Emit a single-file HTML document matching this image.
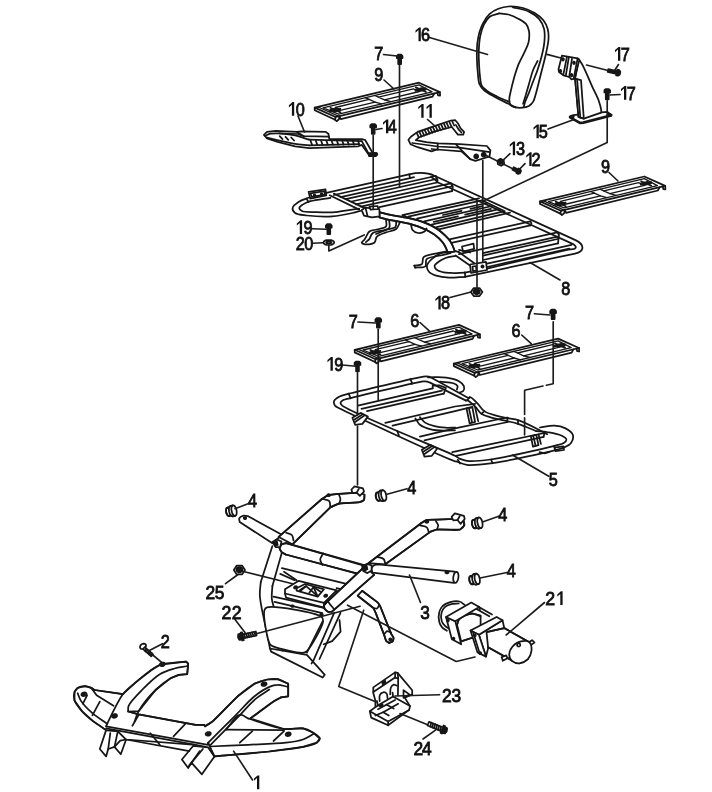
<!DOCTYPE html>
<html><head><meta charset="utf-8"><title>Parts diagram</title>
<style>
html,body{margin:0;padding:0;background:#fff;}
body{width:712px;height:792px;overflow:hidden;}
svg{display:block;}
path{fill:none;stroke:#161616;stroke-width:1.75;stroke-linejoin:round;stroke-linecap:round;}
path.ld{stroke-width:1.65;stroke:#1c1c1c;}
path.k{fill:#161616;}
path.w{fill:#fff;}
path.t{stroke-width:1.3;}
text{font-family:"Liberation Sans",sans-serif;font-size:18.7px;fill:#111;stroke:#111;stroke-width:0.85px;}
path.g1{fill:#111;stroke:none;}
</style></head>
<body>
<svg width="712" height="792" viewBox="0 0 712 792">
<rect x="0" y="0" width="712" height="792" fill="#fff"/>
<!-- plates -->
<path d="M314.7 107.6 L419 82.7 L439.9 92.1 L339.3 116.1 L335.6 117Z" stroke-width="1.8" class="w"/>
<path d="M314.7 107.6 L314.7 110.2 L335.1 119.8 L335.6 117" stroke-width="1.5"/>
<path d="M318.2 107 L338.3 116.1" class="t"/>
<path d="M335.1 119.8 L336.6 121.2 L339 119.3 L339.3 116.1" stroke-width="1.5"/>
<path d="M339.3 116.1 L340.8 119.1 L432.6 96.7 L434.2 93.5" stroke-width="1.7"/>
<path d="M439.9 92.1 L440.1 95.6 L438 95.3 L437.6 92.9" stroke-width="1.7"/>
<path d="M323 107.8 L419 84.9 L432.1 91.8 L338.7 114.1Z" class="t"/>
<path d="M335.2 107.5 L369.1 99.4 L375.1 102.1 L341.2 110.2Z" class="t"/>
<path d="M378.4 97.1 L413.4 88.8 L419.4 91.5 L384.5 99.9Z" class="t"/>
<path d="M365.3 97.7 L369.1 99.4" class="t"/>
<path d="M374.7 95.4 L378.4 97.1" class="t"/>
<path d="M375.1 102.1 L381.5 103.9" class="t"/>
<path d="M384.5 99.9 L390.9 101.6" class="t"/>
<path d="M330.3 109.9 L336.5 108.4 L340.3 110.1 L334 111.6Z" stroke-width="1" class="k"/>
<path d="M330.3 107.8 L340.5 112.4" stroke-width="1.9"/>
<path d="M329.8 111.2 L340.3 108.7" stroke-width="1.7"/>
<path d="M415.8 89.5 L422 88 L425.8 89.7 L419.5 91.2Z" stroke-width="1" class="k"/>
<path d="M415.8 87.4 L426 92" stroke-width="1.9"/>
<path d="M415.4 90.8 L425.8 88.3" stroke-width="1.7"/>
<path d="M540 201.4 L644.3 176.5 L665.2 185.9 L564.6 209.9 L560.9 210.8Z" stroke-width="1.8" class="w"/>
<path d="M540 201.4 L540 204 L560.4 213.6 L560.9 210.8" stroke-width="1.5"/>
<path d="M543.5 200.8 L563.6 209.9" class="t"/>
<path d="M560.4 213.6 L561.9 215 L564.3 213.1 L564.6 209.9" stroke-width="1.5"/>
<path d="M564.6 209.9 L566.1 212.9 L657.9 190.5 L659.5 187.3" stroke-width="1.7"/>
<path d="M665.2 185.9 L665.4 189.4 L663.3 189.1 L662.9 186.7" stroke-width="1.7"/>
<path d="M548.4 201.6 L644.3 178.7 L657.4 185.6 L564 207.9Z" class="t"/>
<path d="M560.5 201.3 L594.4 193.2 L600.4 195.9 L566.5 204Z" class="t"/>
<path d="M603.7 190.9 L638.7 182.6 L644.7 185.3 L609.8 193.7Z" class="t"/>
<path d="M590.6 191.5 L594.4 193.2" class="t"/>
<path d="M600 189.2 L603.7 190.9" class="t"/>
<path d="M600.4 195.9 L606.8 197.7" class="t"/>
<path d="M609.8 193.7 L616.2 195.4" class="t"/>
<path d="M555.6 203.7 L561.8 202.2 L565.6 203.9 L559.3 205.4Z" stroke-width="1" class="k"/>
<path d="M555.6 201.6 L565.8 206.2" stroke-width="1.9"/>
<path d="M555.1 205 L565.6 202.5" stroke-width="1.7"/>
<path d="M641.1 183.3 L647.3 181.8 L651.1 183.5 L644.8 185Z" stroke-width="1" class="k"/>
<path d="M641.1 181.2 L651.3 185.8" stroke-width="1.9"/>
<path d="M640.7 184.6 L651.1 182.1" stroke-width="1.7"/>
<path d="M354.7 349.8 L459 324.9 L479.9 334.3 L379.3 358.3 L375.6 359.2Z" stroke-width="1.8" class="w"/>
<path d="M354.7 349.8 L354.7 352.4 L375.1 362 L375.6 359.2" stroke-width="1.5"/>
<path d="M358.2 349.2 L378.3 358.3" class="t"/>
<path d="M375.1 362 L376.6 363.4 L379 361.5 L379.3 358.3" stroke-width="1.5"/>
<path d="M379.3 358.3 L380.8 361.3 L472.6 338.9 L474.2 335.7" stroke-width="1.7"/>
<path d="M479.9 334.3 L480.1 337.8 L478 337.5 L477.6 335.1" stroke-width="1.7"/>
<path d="M363 350 L459 327.1 L472.1 334 L378.7 356.3Z" class="t"/>
<path d="M375.2 349.7 L409.1 341.6 L415.1 344.3 L381.2 352.4Z" class="t"/>
<path d="M418.4 339.3 L453.4 331 L459.4 333.7 L424.5 342.1Z" class="t"/>
<path d="M405.3 339.9 L409.1 341.6" class="t"/>
<path d="M414.7 337.6 L418.4 339.3" class="t"/>
<path d="M415.1 344.3 L421.5 346.1" class="t"/>
<path d="M424.5 342.1 L430.9 343.8" class="t"/>
<path d="M370.3 352.1 L376.5 350.6 L380.3 352.3 L374 353.8Z" stroke-width="1" class="k"/>
<path d="M370.3 350 L380.5 354.6" stroke-width="1.9"/>
<path d="M369.8 353.4 L380.3 350.9" stroke-width="1.7"/>
<path d="M455.8 331.7 L462 330.2 L465.8 331.9 L459.5 333.4Z" stroke-width="1" class="k"/>
<path d="M455.8 329.6 L466 334.2" stroke-width="1.9"/>
<path d="M455.4 333 L465.8 330.5" stroke-width="1.7"/>
<path d="M453.8 363.5 L558.1 338.6 L579 348 L478.4 372 L474.7 372.9Z" stroke-width="1.8" class="w"/>
<path d="M453.8 363.5 L453.8 366.1 L474.2 375.7 L474.7 372.9" stroke-width="1.5"/>
<path d="M457.3 362.9 L477.4 372" class="t"/>
<path d="M474.2 375.7 L475.7 377.1 L478.1 375.2 L478.4 372" stroke-width="1.5"/>
<path d="M478.4 372 L479.9 375 L571.7 352.6 L573.3 349.4" stroke-width="1.7"/>
<path d="M579 348 L579.2 351.5 L577.1 351.2 L576.7 348.8" stroke-width="1.7"/>
<path d="M462.1 363.7 L558.1 340.8 L571.2 347.7 L477.8 370Z" class="t"/>
<path d="M474.3 363.4 L508.2 355.3 L514.2 358 L480.3 366.1Z" class="t"/>
<path d="M517.5 353 L552.5 344.7 L558.5 347.4 L523.6 355.8Z" class="t"/>
<path d="M504.4 353.6 L508.2 355.3" class="t"/>
<path d="M513.8 351.3 L517.5 353" class="t"/>
<path d="M514.2 358 L520.6 359.8" class="t"/>
<path d="M523.6 355.8 L530 357.5" class="t"/>
<path d="M469.4 365.8 L475.6 364.3 L479.4 366 L473.1 367.5Z" stroke-width="1" class="k"/>
<path d="M469.4 363.7 L479.6 368.3" stroke-width="1.9"/>
<path d="M468.9 367.1 L479.4 364.6" stroke-width="1.7"/>
<path d="M554.9 345.4 L561.1 343.9 L564.9 345.6 L558.6 347.1Z" stroke-width="1" class="k"/>
<path d="M554.9 343.3 L565.1 347.9" stroke-width="1.9"/>
<path d="M554.5 346.7 L564.9 344.2" stroke-width="1.7"/>
<!-- rack 8 -->
<path d="M386.1 220.6 C386.1 222.5 387.1 225.1 386.1 226.5 C385.1 228 381.9 228.2 379.4 229 C376.4 229.9 371.5 229.9 369.3 231.5 C367.6 232.8 367.1 235.1 366.2 236.6 C365.5 237.8 365 238.9 364.2 239.9 C363.5 240.9 361.6 241.8 361.7 242.5 C361.8 243.1 363 243.9 364.2 244.2 C366.4 244.7 372.2 244.4 374.3 242.8 C376 241.5 375.3 238.2 376.9 236.6 C378.8 234.5 382.9 233.6 386.1 232.4 C389.4 231.1 393.9 230.9 396.2 229 C398.2 227.3 398.7 224.5 400 222.3" stroke-width="2.5"/>
<path d="M389.2 220.6 C389.2 223.1 390.6 226.2 389.2 228.1 C387 231.1 375.9 230.6 372.6 233.2 C370.6 234.8 370.5 237.5 369.3 239.1 C368.2 240.4 367 241.1 365.9 242.1" stroke-width="1.7"/>
<path d="M396.2 221.4 C396 223.3 396.6 225.6 395.4 227 C393.9 228.8 389.3 228.7 386.1 229.8 C382.8 231 379.4 232.6 376 234" stroke-width="1.5"/>
<path d="M414.3 265.6 C416.9 265.1 420.4 265.7 421.9 264.2 C423.4 262.8 421.9 258.9 423.6 257.1 C426.1 254.5 434 254.1 438.8 252.9 C442.9 251.9 446.6 251.2 450.6 250.4" stroke-width="2.7"/>
<path d="M415.2 267.6 C418.5 267.2 423.4 268.1 425.3 266.4 C426.8 264.9 425 260.9 426.6 259.2 C428.9 256.7 436.2 256.5 440.5 255.5 C444.1 254.5 447.2 253.9 450.6 253.1" stroke-width="2.2"/>
<path d="M414.3 265.6 L415.2 267.6" stroke-width="2.5"/>
<path d="M326.3 192.8 C320.4 194.5 313.6 196 308.6 197.8 C304.7 199.2 301.3 200.1 298.5 202 C296.1 203.6 292.9 205.9 292.6 207.9 C292.3 209.6 293.5 211.8 295.1 213 C297.4 214.8 302.2 214.9 306.9 215.5 C313.7 216.3 324.3 216.9 332.2 216.4 C339.3 215.9 347 214.2 352.4 213 C356.1 212.2 358.6 211.3 361.7 210.5" stroke-width="1.7"/>
<path d="M330.5 197.8 C323.8 198.9 315.3 199.7 310.3 201.2 C307.1 202.2 304.6 203.3 302.7 204.6 C301.2 205.6 299.4 206.8 299.3 207.9 C299.2 208.9 300.5 210.3 301.9 211 C304.5 212.3 310.4 211.9 315.3 212.1 C321.4 212.3 329.2 212.6 335.6 212.1 C341.5 211.7 348 210.2 352.4 209.6 C355.2 209.2 356.9 208.9 359.2 208.6" stroke-width="1.5"/>
<path d="M329.7 195.3 L359.2 209.6"/>
<path d="M333.9 193.6 L364.2 207.9"/>
<path d="M306.5 198.6 L308.5 202" stroke-width="1.1"/>
<path d="M308.6 191.9 L325.5 189.4 L326.3 195.3 L310.3 198.7Z" class="w"/>
<path d="M310.6 193.3 L324.3 191.2 L324.8 194.6 L311.6 196.9Z" stroke-width="1"/>
<path d="M315.3 195.3 L315.2 195.6 L315.1 195.9 L314.8 196 L314.5 196.1 L314.2 196 L313.9 195.9 L313.8 195.6 L313.7 195.3 L313.8 195 L313.9 194.7 L314.2 194.6 L314.5 194.5 L314.8 194.6 L315.1 194.7 L315.2 195 L315.3 195.3Z" stroke-width="1"/>
<path d="M322.4 194 L322.3 194.3 L322.2 194.6 L321.9 194.7 L321.6 194.8 L321.3 194.7 L321 194.6 L320.9 194.3 L320.8 194 L320.9 193.7 L321 193.4 L321.3 193.3 L321.6 193.2 L321.9 193.3 L322.2 193.4 L322.3 193.7 L322.4 194Z" stroke-width="1"/>
<path d="M326.3 192.8 L409 174.4 C420 172 428 172.6 434.4 175.7 L576 240.4 C581 243 583.5 246 582 249.5 C580.5 252.5 578 253 575 253.6 L464.9 276.8" stroke-width="1.7"/>
<path d="M333.9 195 L410 178.1"/>
<path d="M410 178.1 L414 177.2"/>
<path d="M409.3 174.4 L410 178" stroke-width="1.1"/>
<path d="M431 177 C434 178.5 436 180 437.5 182.2 L571.5 243.4 C575 245 576.5 246.5 575.5 248 C574.5 249.5 572 249.2 569.3 249.3" stroke-width="1.5"/>
<path d="M340.6 197.1 L435.6 176" stroke-width="2.2"/>
<path d="M345.7 199.2 L436.5 179"/>
<path d="M351.6 201.5 L437 182.5" stroke-width="1.8"/>
<path d="M435.6 176 L437.6 180.2 L437 182.5" stroke-width="1.3"/>
<path d="M355.8 204.4 L450.8 183.3" stroke-width="2.2"/>
<path d="M360.8 206.6 L451.5 186.5"/>
<path d="M379.4 207.2 L452 191.1" stroke-width="1.7"/>
<path d="M450.8 183.3 L452.8 186.8 L452 191.1" stroke-width="1.3"/>
<path d="M510 212.6 L438.8 229.3 L402.3 215.2 L479 198.4" stroke-width="1.7"/>
<path d="M408.2 216.6 L482 200.3" stroke-width="1.3"/>
<path d="M417 218.6 L486.8 203" stroke-width="1.3"/>
<path d="M424.2 221.4 L492.3 206" stroke-width="1.3"/>
<path d="M431.5 224.7 L499.1 209.1" stroke-width="1.3"/>
<path d="M436.6 227.1 L504.8 211.2 L482 200.3" stroke-width="1.3"/>
<path d="M443 215 L461.6 210.8" stroke-width="2.5"/>
<path d="M470.5 208.8 L482.5 206.1" stroke-width="2.5"/>
<path d="M433.7 221.9 L457.9 216.4" stroke-width="2.5"/>
<path d="M465.2 214.7 L490.9 208.9" stroke-width="2.5"/>
<path d="M449.5 239.3 L530.4 221.3" stroke-width="1.8"/>
<path d="M452.5 242.6 L530.4 225.3" stroke-width="1.5"/>
<path d="M530.4 221.3 L531.5 223.3 L530.4 225.3" stroke-width="1.3"/>
<path d="M459 254.2 L557.2 232.4" stroke-width="1.8"/>
<path d="M483 253.2 L557.6 236.6"/>
<path d="M483 255.6 L557.6 239"/>
<path d="M483 260 L558 243.3" stroke-width="1.7"/>
<path d="M557.2 232.4 L559 234.6 L558 243.3" stroke-width="1.3"/>
<path d="M487 263.7 L571.5 244.9"/>
<path d="M487 267 L569.3 248.7"/>
<path d="M379.4 212.2 C382.3 212.9 384.9 213.7 388 214.4 C391.4 215.1 395.3 215.7 399 216.4 C402.9 217.1 407.1 217.7 411 218.6 C414.9 219.5 419.1 220.6 422.6 221.8 C425.7 222.9 428.3 224 431 225.4 C433.6 226.7 436 228.1 438.3 229.8 C440.6 231.5 443 233.5 445 235.4 C446.9 237.2 448.7 239.1 450.1 241 C451.3 242.8 452.2 244.7 453 246.5 C453.7 248.2 454.2 249.8 454.8 251.5 L447.8 252.6 L446 248 L443.2 243 L439.5 238.8 L434.4 234.6 L427 230.2 L418.6 226.6 L409 223.6 L399 221.6 L388 219.6 L379.4 217.4Z" stroke="none" class="w"/>
<path d="M379.4 212.2 C382.3 212.9 384.9 213.7 388 214.4 C391.4 215.1 395.3 215.7 399 216.4 C402.9 217.1 407.1 217.7 411 218.6 C414.9 219.5 419.1 220.6 422.6 221.8 C425.7 222.9 428.3 224 431 225.4 C433.6 226.7 436 228.1 438.3 229.8 C440.6 231.5 443 233.5 445 235.4 C446.9 237.2 448.7 239.1 450.1 241 C451.3 242.8 452.2 244.7 453 246.5 C453.7 248.2 454.2 249.8 454.8 251.5" stroke-width="1.7"/>
<path d="M379.4 217.4 C382.3 218.1 384.9 218.9 388 219.6 C391.4 220.3 395.4 220.9 399 221.6 C402.4 222.3 405.7 222.8 409 223.6 C412.3 224.4 415.5 225.5 418.6 226.6 C421.5 227.7 424.3 228.8 427 230.2 C429.6 231.5 432.2 233.1 434.4 234.6 C436.3 235.9 438 237.3 439.5 238.8 C440.9 240.1 442.1 241.5 443.2 243 C444.3 244.5 445.2 246.3 446 248 C446.7 249.5 447.2 251.1 447.8 252.6" stroke-width="1.7"/>
<path d="M411 224.5 C411.5 226.3 411.4 228.6 412.5 230 C413.7 231.5 416 232.7 418 233 C420 233.3 423.1 232.5 424.5 231.5 C425.6 230.8 425.8 229.5 426.5 228.5" stroke-width="1.7"/>
<path d="M361.7 210.2 L365 207.6 L379.4 209.2 L379.6 216.4 L372 217.4 L364 215.6Z" stroke-width="1.7" class="w"/>
<path d="M365.5 207.8 L367.5 215.9" stroke-width="1.1"/>
<path d="M369.5 206.6 L377.5 206 L378.5 209 L370.5 209.6Z" stroke-width="1.3" class="w"/>
<path d="M454.8 251.5 C450.6 252 446 251.6 442.1 252.9 C438.4 254.1 434.6 256.5 432 258.8 C429.8 260.8 427.4 263.3 427 265.6 C426.7 267.6 427.4 269.9 428.7 271.5 C430.2 273.4 433.3 274.7 436.2 275.7 C439.8 276.9 444.4 277.5 448.9 277.7 C453.9 278 459.6 277.1 464.9 276.8" stroke-width="1.7"/>
<path d="M455.6 255.8 C452.2 256.5 448.6 256.9 445.5 258 C442.7 259.1 439.8 260.7 437.9 262.2 C436.5 263.3 434.8 264.4 434.6 265.6 C434.4 266.7 435.2 268.3 436.2 269.3 C437.4 270.6 439.8 271.4 442.1 272 C444.9 272.8 448.5 272.9 452 273 C456 273.1 460.6 272.7 464.9 272.6" stroke-width="1.5"/>
<path d="M464.9 272.6 L470 271.6"/>
<path d="M464.9 272.3 L465.2 276.8" stroke-width="1.1"/>
<path d="M487 268.6 L569.3 249.3" stroke-width="1.4"/>
<path d="M455.6 255.5 L470 265.5"/>
<path d="M459 252.2 L474 263"/>
<path d="M455.6 251.2 L459 252.2" stroke-width="1.1"/>
<path d="M462 246.5 L473.5 243.6 L474.2 248.8 L463 251.6Z" stroke-width="1.5"/>
<path d="M459 249.8 L470 252.5" stroke-width="1.3"/>
<path d="M470 264.5 L486 261.8 L487 270 L471 272.8Z" stroke-width="1.7" class="w"/>
<path d="M472.5 266.6 L476 266 L476.5 270.6 L473 271.2Z" stroke-width="1.1"/>
<path d="M483.6 266.5 L483.5 266.9 L483.3 267.3 L482.9 267.5 L482.5 267.6 L482.1 267.5 L481.7 267.3 L481.5 266.9 L481.4 266.5 L481.5 266.1 L481.7 265.7 L482.1 265.5 L482.5 265.4 L482.9 265.5 L483.3 265.7 L483.5 266.1 L483.6 266.5Z" stroke-width="0.6" class="k"/>
<!-- rack 5 -->
<path d="M415.4 418.4 C416.9 420.5 417.8 423 419.9 424.8 C422.6 426.9 427 428.4 430.9 429.3 C434.9 430.4 439.5 430.5 443.7 430.6 C447.6 430.7 451.2 430.4 455 430.3" stroke-width="1.5"/>
<path d="M419.9 417.1 C421.6 418.9 422.9 421.1 425.1 422.6 C427.6 424.3 431.2 425.4 434.5 426.2 C438 427.1 442 427.5 445.5 427.7 C448.8 427.9 451.8 427.6 455 427.5" stroke-width="1.5"/>
<path d="M466.5 408.3 L472.4 407.4 L475.1 422 L469.6 423.3Z" stroke-width="1.5" class="w"/>
<path d="M469.1 409.3 L472 422" stroke-width="2"/>
<path d="M475.1 407.4 L478.2 421.1" stroke-width="1.5"/>
<path d="M530.8 436.1 L536.3 434.8 L538.5 445.2 L533 446.7Z" stroke-width="1.5" class="w"/>
<path d="M533.4 436.6 L535.6 445.8" stroke-width="2"/>
<path d="M538.5 434.3 L540.9 443.9" stroke-width="1.5"/>
<path d="M554.5 447.6 L563.3 446.3 L564 450 L555.6 451.2Z" stroke-width="1.4" class="w"/>
<path d="M539.6 452.2 L544.5 453.3 L549.4 451.8" stroke-width="2.5"/>
<path d="M410.8 379.1 C390.1 384 360.2 390.7 348.7 393.7 C344.3 394.9 342.1 395.1 339.6 396.5 C337.4 397.7 334.7 399.3 334.1 401 C333.6 402.4 334.1 404.3 335 405.6 C336.2 407.2 337.9 407.5 341.4 409.3 C355.9 416.7 448.6 459.9 455 461.3 C455.6 461.4 455.5 461.2 456 461.3 C457.6 461.6 462.4 464.4 466.9 464.9 C473.6 465.8 482.1 464.5 492.5 463.1 C508.7 460.9 543.1 453.2 554.5 450.3 C559 449.2 560.9 448.9 563.7 447.6 C566.3 446.4 569.5 445.2 571 443 C572.5 440.9 573.6 437.2 572.8 434.8 C572 432.3 568.4 429.9 565.5 428.4 C562.4 426.8 558.5 425.9 554.5 425.7 C550.1 425.4 544.8 426.9 539.9 427.5" stroke-width="1.7"/>
<path d="M411.7 383.7 C391 388.6 359.7 395.7 349.6 398.3 C346.4 399.1 344.9 399.2 343.3 400.1 C342 400.8 340.6 401.9 340.5 402.9 C340.4 403.7 341 404.4 342.3 405.6 C350.8 412.8 442.4 449.3 455 455.8 C457.6 457.2 457.8 457.8 459.6 458.6 C461.7 459.5 463.7 460.5 466.9 460.9 C472.5 461.6 480.9 460.8 490.6 459.5 C506.8 457.2 542.9 448.8 554.5 445.8 C559 444.6 561.7 444.4 563.7 443 C565.1 442.1 566.6 440.5 566.4 439.4 C566.3 438.1 564 436.8 561.9 435.7 C558.5 434.1 551.8 432.8 547.2 432.1 C543.4 431.4 539.9 431.5 536.3 431.2" stroke-width="1.5"/>
<path d="M428 377.3 C434.1 377.4 440.8 376.8 446.3 377.6 C451 378.3 455.9 379.4 459 381.2 C461.2 382.5 463.3 384.3 463.9 386.1 C464.4 387.6 464 390 463.2 391 C462.5 391.9 461.1 391.9 460 392.3" stroke-width="1.7"/>
<path d="M440 381.6 C444.5 382.2 450.3 382.1 453.4 383.3 C455.3 384 457.1 384.9 457.6 386.1 C458 387.1 457.1 388.4 456.9 389.5" stroke-width="1.5"/>
<path d="M410.8 379.1 L423.5 376.6 Q428.5 376 431.5 377.8 L468.8 398.2" stroke-width="1.7"/>
<path d="M468.8 398.2 C469.4 397.9 469.8 397.3 470.6 397.4 C472.2 397.6 475.6 401.5 477.9 403.8 C480.1 406.1 481.5 409.2 484.3 411.1 C487.4 413.3 492 414.4 496.1 415.6 C500.3 416.9 505 417.6 508.9 418.4 C512.2 419.1 514.4 419 518 420.2 C523.9 422.1 534.6 427.6 539.9 430.3 C543.1 431.8 544.8 432.9 547.2 434.3" stroke-width="1.7"/>
<path d="M411.7 383.7 L423 381.4 Q427 381 429.5 382.4 L466 400.6" stroke-width="1.5"/>
<path d="M466 400.6 C466.3 400.4 466.5 400.1 466.9 400.1 C468.3 400.3 472.7 404.2 475.1 406.5 C477.5 408.8 478.7 411.9 481.5 413.8 C484.8 416.1 490 417.2 494.3 418.4 C498.5 419.6 503 420.2 507.1 421.1 C510.9 422 514 422.5 518 423.9 C523.4 425.6 530.2 428.7 536.3 431.2" stroke-width="1.5"/>
<path d="M348.7 393.7 L350.6 398.3" stroke-width="1.1"/>
<path d="M410.4 379.1 L412.3 383.7" stroke-width="1.1"/>
<path d="M397.1 430.8 L398.9 435.4" stroke-width="1.1"/>
<path d="M457.8 459.8 L460 463.5" stroke-width="1.1"/>
<path d="M491 459.5 L492.5 463.1" stroke-width="1.1"/>
<path d="M554.2 445.8 L555.1 450.3" stroke-width="1.1"/>
<path d="M469.6 397 L467.3 400.3" stroke-width="1.1"/>
<path d="M484.3 411.1 L481.5 413.8" stroke-width="1.1"/>
<path d="M508 417.8 L506.7 421.1" stroke-width="1.1"/>
<path d="M518 420.2 L518 423.9" stroke-width="1.1"/>
<path d="M357.9 405.6 L432.7 388.3" stroke-width="2.2"/>
<path d="M361.5 408.9 L441.9 390.6" stroke-width="1.4"/>
<path d="M367 411.1 L443.7 393.7" stroke-width="1.7"/>
<path d="M432.7 388.3 L432.7 385.7 L439.1 385.3 L445.9 387.9 L443.7 393.7" stroke-width="1.4"/>
<path d="M385.3 422.9 L455 406.5 L475.1 403.8" stroke-width="2.2"/>
<path d="M392.6 425.7 L455 411.1 L472.4 406.9" stroke-width="1.7"/>
<path d="M419.9 436.6 L455 428.4 L507.1 417.5" stroke-width="2.2"/>
<path d="M424.5 440.3 L455 433 L508 422" stroke-width="1.7"/>
<path d="M452.3 452.2 L544.5 433" stroke-width="2.2"/>
<path d="M456 455.8 L543.6 436.8" stroke-width="1.7"/>
<path d="M544.5 433 L543.6 436.8" stroke-width="1.3"/>
<path d="M352.4 417.8 L360.6 412.9 L367.9 416.6 L362.4 423.9 L355.1 424.8Z" stroke-width="1.8" class="w"/>
<path d="M355.1 422 L364.3 415.6" stroke-width="2.8"/>
<path d="M354.2 419.7 L362.4 414.4" stroke-width="1.3"/>
<path d="M421.8 449.8 L430 444.9 L437.3 448.5 L431.8 455.8 L424.5 456.7Z" stroke-width="1.8" class="w"/>
<path d="M424.5 454 L433.6 447.6" stroke-width="2.8"/>
<path d="M423.6 451.6 L431.8 446.3" stroke-width="1.3"/>
<!-- frame 3 -->
<path d="M362.1 590.8 L377.9 602.6 L380.3 606.5 L391.1 633.6 L393.6 638 L392.6 641.5 L389.2 642.9 L389.2 642.9 L386.2 641 L384.2 635.1 L375.9 613.4 L373.4 608 L357.7 595.7Z" stroke="none" class="w"/>
<path d="M362.1 590.8 L377.9 602.6 L380.3 606.5 L391.1 633.6" stroke-width="1.7"/>
<path d="M391.1 633.6 C392 635.1 393.4 636.6 393.6 638 C393.7 639.2 393.3 640.6 392.6 641.5 C391.9 642.3 390.3 642.4 389.2 642.9" stroke-width="1.7"/>
<path d="M357.7 595.7 L373.4 608 L375.9 613.4 L384.2 635.1" stroke-width="1.7"/>
<path d="M384.2 635.1 C384.9 637 385.2 639.6 386.2 641 C387 642 388.2 642.3 389.2 642.9" stroke-width="1.7"/>
<path d="M373.9 608 C374.9 608.2 376 608.9 376.9 608.5 C377.9 608.1 378.5 606.2 379.3 605.1" stroke-width="1.3"/>
<path d="M384.7 633.6 C385.6 632.8 386.2 631.3 387.2 631.1 C388.3 630.9 389.8 632.1 391.1 632.6" stroke-width="1.3"/>
<path d="M391.4 639.5 L391.4 639.9 L391.1 640.3 L390.8 640.5 L390.3 640.6 L389.9 640.5 L389.6 640.3 L389.3 639.9 L389.2 639.5 L389.3 639.1 L389.6 638.7 L389.9 638.5 L390.3 638.4 L390.8 638.5 L391.1 638.7 L391.4 639.1 L391.4 639.5Z" stroke-width="0.6" class="k"/>
<path d="M270 648.5 L282.7 650.6 L306.9 654.8 L324.8 674.8 L322.7 677.5 L271.1 651.6Z" stroke-width="1.7" class="w"/>
<path d="M282.7 650.6 L283.3 648.1" stroke-width="1.1"/>
<path d="M339.5 620 L340.6 631.6 L332.2 641.1 L323.7 644.3" stroke-width="1.7"/>
<path d="M272.4 546.1 L260.8 581.9" stroke-width="1.7"/>
<path d="M260.8 581.9 C260.5 586.1 259.6 590.1 259.8 594.5 C259.9 599.3 261.3 606.1 261.9 609.3 C262.2 610.8 262.3 610.9 262.6 612.7 C263.9 618.3 267.6 636.5 270 648.5" stroke-width="1.7"/>
<path d="M281.9 552.4 L272.4 586.1" stroke-width="1.7"/>
<path d="M272.4 586.1 C272.2 590.3 271.4 594.7 271.8 598.7 C272.1 602.4 273.6 605.8 274.5 609.3" stroke-width="1.7"/>
<path d="M266.9 607.4 C273.2 605 316.2 612.3 321.6 616.9 C323.1 618.2 323.3 619.1 323.1 621.1 C322.7 626.5 311.2 646.5 307.3 650.6 C305.9 652 305.6 652.4 303.7 652.7 C298.6 653.5 278 648.4 273.2 646.4 C271.5 645.7 271 645.7 270 644.3 C267.2 639.9 263 615.7 264.3 610.6 C264.8 608.8 265.1 608 266.9 607.4Z" stroke-width="1.7" class="w"/>
<path d="M322.7 621.1 L306.9 652.7" stroke-width="1.7"/>
<path d="M334.3 612.7 L313.2 661.1 L311.5 663.6" stroke-width="1.7"/>
<path d="M340.6 612.7 L319.5 659" stroke-width="1.3"/>
<path d="M273.5 596.6 L325.1 608.2" stroke-width="1.7"/>
<path d="M274.5 601.9 L322.3 613.1" stroke-width="1.7"/>
<path d="M293.7 606.1 L293.6 606.4 L293.3 606.7 L292.9 606.8 L292.4 606.9 L291.9 606.8 L291.5 606.7 L291.2 606.4 L291.1 606.1 L291.2 605.8 L291.5 605.5 L291.9 605.4 L292.4 605.3 L292.9 605.4 L293.3 605.5 L293.6 605.8 L293.7 606.1Z" stroke-width="0.6" class="k"/>
<path d="M322.8 614.5 L322.7 614.8 L322.4 615.1 L322 615.3 L321.5 615.3 L321 615.3 L320.6 615.1 L320.3 614.8 L320.2 614.5 L320.3 614.2 L320.6 614 L321 613.8 L321.5 613.7 L322 613.8 L322.4 614 L322.7 614.2 L322.8 614.5Z" stroke-width="0.6" class="k"/>
<path d="M281.9 568.2 L359.8 587.1" stroke-width="1.7"/>
<path d="M280.2 573.9 L294.5 580.2" stroke-width="1.7"/>
<path d="M336.6 588.2 L353.5 592" stroke-width="1.7"/>
<path d="M284 571.8 L296.6 580.2" stroke-width="1.3"/>
<path d="M285 589.3 L298.7 580.8 L336.6 590.3 L324 602.9 L285 593.5Z" stroke-width="1.7" class="w"/>
<path d="M285 593.5 L286.1 597.7 L324 607.6 L324 602.9" stroke-width="1.7"/>
<path d="M324 607.6 L336.2 594.5 L336.6 590.3" stroke-width="1.7"/>
<path d="M296.6 588.2 L305.1 584 L324 589.3 L317.7 596.6 L296.6 590.7Z" stroke-width="1.7"/>
<path d="M299.8 590.3 L306.1 586.1 L317.7 596.2" stroke-width="1.3"/>
<path d="M306.1 586.1 L300.8 590.7" stroke-width="1.1"/>
<path d="M309.3 592.8 L313.5 587.1 L320.9 592" stroke-width="1.3"/>
<path d="M313.5 587.1 L317.3 595.6" stroke-width="1.1"/>
<path d="M297.1 586.8 L297.1 587.2 L296.9 587.7 L296.5 588.1 L295.9 588.4 L295.3 588.5 L294.8 588.5 L294.3 588.3 L294.1 587.9 L294 587.5 L294.2 587 L294.6 586.6 L295.2 586.3 L295.8 586.2 L296.4 586.2 L296.8 586.5 L297.1 586.8Z" stroke-width="0.6" class="k"/>
<path d="M327.2 595.2 L327.2 595.7 L327 596.1 L326.6 596.5 L326.1 596.8 L325.5 596.9 L324.9 596.9 L324.5 596.7 L324.2 596.3 L324.2 595.9 L324.4 595.4 L324.8 595 L325.3 594.7 L325.9 594.6 L326.5 594.7 L326.9 594.9 L327.2 595.2Z" stroke-width="0.6" class="k"/>
<path d="M286.1 543.1 L281.5 544.4 L279.4 548.2 L281.5 552 L285.7 554.5 L363 575.1 L372.5 568.2Z" stroke="none" class="w"/>
<path d="M370.4 566.9 L286.1 543.1" stroke-width="1.7"/>
<path d="M286.1 543.1 C284.7 543.5 283 543.4 281.9 544.2 C280.8 545 279.6 546.8 279.6 548.2 C279.5 549.4 280.5 550.9 281.5 552 C282.5 553.1 284.3 553.6 285.7 554.5" stroke-width="1.7"/>
<path d="M285.7 554.5 L363 575.1" stroke-width="1.7"/>
<path d="M323.2 553.4 C322.2 555.4 320.3 557.4 320.2 559.3 C320.1 561.2 321.6 563.1 322.3 565" stroke-width="1.4"/>
<path d="M365.1 566.1 L326.1 602.9" stroke-width="1.7"/>
<path d="M365.1 566.1 L326.1 602.9 L324 605.5 L324.6 608.8 L328.2 611.8 L332 611.6 L374.1 574.9Z" stroke="none" class="w"/>
<path d="M365.1 566.1 L326.1 602.9" stroke-width="1.7"/>
<path d="M326.1 602.9 C325.4 603.8 324.3 604.5 324 605.5 C323.8 606.5 324.1 607.8 324.6 608.8 C325.3 610 326.9 611.4 328.2 611.8 C329.4 612.2 330.8 611.7 332 611.6" stroke-width="1.7"/>
<path d="M332 611.6 L374.1 574.9" stroke-width="1.7"/>
<path d="M327.8 601.3 C328.6 602.4 329.4 603.4 330.3 604.6 C331.5 606.1 332.9 607.7 334.1 609.3" stroke-width="1.3"/>
<path d="M239.7 522.1 C239.6 520.9 238.9 519.4 239.3 518.3 C239.8 517.2 241.5 516.2 242.9 515.8 C244.4 515.4 246.4 516.1 248.2 516.2 L281.9 534.8 L272.4 543.2Z" stroke-width="1.7" class="w"/>
<path d="M246.2 518.1 L246.1 518.5 L245.9 518.8 L245.5 519.1 L245 519.1 L244.6 519.1 L244.2 518.8 L243.9 518.5 L243.8 518.1 L243.9 517.7 L244.2 517.4 L244.6 517.2 L245 517.1 L245.5 517.2 L245.9 517.4 L246.1 517.7 L246.2 518.1Z" stroke-width="0.6" class="k"/>
<path d="M278.7 536.9 L321.9 499 L328.2 495.2 L338.8 493.9 L359.8 492.6 L364.5 494.7 L364 500 L359.8 502.1 L338.8 503.6 L330.3 507.4 L292.4 544.3Z" stroke="none" class="w"/>
<path d="M278.7 536.9 L321.9 499" stroke-width="1.7"/>
<path d="M321.9 499 C324 497.7 325.7 496 328.2 495.2 C331.2 494.1 334.6 494.3 338.8 493.9 C344.6 493.4 352.8 493.1 359.8 492.6" stroke-width="1.7"/>
<path d="M292.4 544.3 L330.3 507.4" stroke-width="1.7"/>
<path d="M330.3 507.4 C333.1 506.1 335.2 504.5 338.8 503.6 C344.1 502.2 355.5 503.3 359.8 502.1 C361.8 501.6 363.2 501.2 364 500 C364.9 498.8 364.3 496.5 364.5 494.7" stroke-width="1.7"/>
<path d="M286.1 532.7 C288.1 533.5 290.8 533.8 292 535.2 C293.1 536.5 293 538.7 293.5 540.5" stroke-width="1.3"/>
<path d="M323 499 C325.1 499.7 328.1 499.7 329.3 501.1 C330.4 502.4 330 505 330.3 507" stroke-width="1.3"/>
<path d="M338.8 494.3 C339.3 495.9 340.4 497.4 340.4 499 C340.5 500.5 339.6 502 339.2 503.6" stroke-width="1.3"/>
<path d="M329.9 495.2 L329.8 495.6 L329.6 495.9 L329.1 496.1 L328.6 496.2 L328.1 496.1 L327.7 495.9 L327.4 495.6 L327.3 495.2 L327.4 494.8 L327.7 494.5 L328.1 494.2 L328.6 494.2 L329.1 494.2 L329.6 494.5 L329.8 494.8 L329.9 495.2Z" stroke-width="0.6" class="k"/>
<path d="M351.4 489.5 L354.6 486.3 L363 488.4 L364 491.6 L359.8 495.8 L356.7 492.6 L352.4 493.1Z" stroke-width="1.7" class="w"/>
<path d="M356.7 492.6 L358.8 488.8" stroke-width="1.3"/>
<path d="M272.4 542.1 L276.6 539.4 L281.5 541.5 L280.2 547 L275.6 547Z" stroke-width="1.9" class="w"/>
<path d="M273.9 542.4 L276.8 541.1 L277.7 544.9 L275.1 545.7Z" stroke-width="0.8" class="k"/>
<path d="M368.4 563.2 L421.1 523.2 L426.4 520 L436.9 519.6 L453.8 519 L463.4 520 L464.3 525.3 L460.1 529.5 L436.9 529.5 L430.6 531.6 L385.3 564.3Z" stroke="none" class="w"/>
<path d="M368.4 563.2 L421.1 523.2" stroke-width="1.7"/>
<path d="M421.1 523.2 C422.9 522.1 424.2 520.7 426.4 520 C429.2 519.2 433 519.8 436.9 519.6 C441.9 519.4 448.1 519.2 453.8 519" stroke-width="1.7"/>
<path d="M385.3 564.3 L430.6 531.6" stroke-width="1.7"/>
<path d="M430.6 531.6 C432.7 530.9 434.1 530 436.9 529.5 C442.2 528.7 455.6 531.3 460.1 529.5 C462.3 528.6 463.8 526.9 464.3 525.3 C464.8 523.7 463.7 521.8 463.4 520" stroke-width="1.7"/>
<path d="M376.9 556.9 C379.1 557.6 382.2 557.7 383.6 559 C384.8 560.1 384.7 562.2 385.3 563.8" stroke-width="1.3"/>
<path d="M420.1 525.3 C422.3 526 425.3 526 426.8 527.4 C428.1 528.6 428.2 530.9 428.9 532.7" stroke-width="1.3"/>
<path d="M435.9 521.1 C436.6 522.5 438 523.9 438.2 525.3 C438.3 526.7 437.3 528.1 436.9 529.5" stroke-width="1.3"/>
<path d="M428.3 521.7 L428.2 522.1 L427.9 522.5 L427.4 522.7 L426.8 522.8 L426.2 522.7 L425.7 522.5 L425.4 522.1 L425.3 521.7 L425.4 521.3 L425.7 520.9 L426.2 520.7 L426.8 520.6 L427.4 520.7 L427.9 520.9 L428.2 521.3 L428.3 521.7Z" stroke-width="0.6" class="k"/>
<path d="M451.6 516.9 L454.8 513.3 L463.9 515.8 L464.7 519 L460.5 523.8 L457.5 520 L453.3 520.4Z" stroke-width="1.7" class="w"/>
<path d="M457.5 520 L459.7 516.2" stroke-width="1.3"/>
<path d="M372.7 572.7 C372.2 571.4 371.2 570.1 371.4 568.9 C371.6 567.7 372.6 566.3 373.7 565.5 C374.8 564.7 376.5 564.7 377.9 564.3 L454.8 571.6 L453.8 582.8Z" stroke-width="1.7" class="w"/>
<path d="M458.4 577.7 L457.9 579.8 L457.1 581.5 L456.1 582.6 L455.1 582.9 L454.2 582.3 L453.5 581 L453.2 579.1 L453.3 577 L453.8 574.9 L454.6 573.1 L455.6 572.1 L456.6 571.8 L457.6 572.3 L458.2 573.7 L458.5 575.5 L458.4 577.7Z" stroke-width="1.7" class="w"/>
<path d="M448.6 572.3 L448.5 572.7 L448.1 573 L447.6 573.3 L447 573.4 L446.4 573.3 L445.9 573 L445.5 572.7 L445.4 572.3 L445.5 571.8 L445.9 571.5 L446.4 571.3 L447 571.2 L447.6 571.3 L448.1 571.5 L448.5 571.8 L448.6 572.3Z" stroke-width="0.6" class="k"/>
<path d="M362.1 566.4 L367 563.8 L371.6 565.3 L371.6 570.6 L367.4 573.1 L363.2 571Z" stroke-width="1.9" class="w"/>
<path d="M363.2 566.8 L366.5 565.1 L367.4 569.3 L364.4 570.6Z" stroke-width="0.8" class="k"/>
<!-- winch 21 -->
<path d="M446.9 630.8 C445.3 629.7 443.4 628.9 442.1 627.4 C440.8 625.9 439.8 624.2 439.3 622 C438.6 619.2 438.5 614.7 439.3 611.9 C439.9 609.6 441 607.6 442.6 606 C444.5 604.2 447.5 602.9 450.2 602.1 C453.1 601.3 457 600.8 459.5 601.5 C461.5 602 462.9 603.7 464.6 604.8" stroke-width="1.7"/>
<path d="M448.5 628.4 C447.3 627.5 445.9 626.9 444.8 625.7 C443.6 624.5 442.4 623 441.8 621.2 C441.1 618.9 440.8 615.2 441.5 612.8 C442 610.6 443.3 608.6 444.8 607.2 C446.4 605.7 448.8 604.8 451.1 604.2 C453.4 603.5 456.1 603.7 458.7 603.5" stroke-width="1.3"/>
<path d="M475.2 608.2 L489.3 616.3" stroke-width="1.7"/>
<path d="M478 606.5 L492 614.6" stroke-width="1.7"/>
<path d="M446 617 L455.3 621.2 L461.2 644.3 L451.9 639.2Z" stroke-width="1.7" class="w"/>
<path d="M457 624.6 L459 619 L464.6 615.3 L472.1 613.3 L480.6 615.6 L480.6 635.5 L473 637.5 L461.2 641.4Z" stroke="none" class="w"/>
<path d="M457 625.1 C457.6 623.2 457.8 621 459 619.5 C460.3 617.8 462.5 616.6 464.6 615.6 C466.8 614.6 469.5 613.6 472.1 613.6 C474.9 613.6 477.8 615.3 480.6 616.1" stroke-width="1.7"/>
<path d="M461.2 641.4 L473 637.5" stroke-width="1.7"/>
<path d="M446 617 L471.3 602.6 L479.2 606.9 L455.3 621.2Z" stroke-width="1.7" class="w"/>
<path d="M479.2 606.9 L479.9 609.9" stroke-width="1.7"/>
<path d="M478.9 634.7 L502.5 620.3 L504.5 629.1 L489 644.8 L486 656.6Z" stroke-width="1.7" class="w"/>
<path d="M470.5 630.5 L496.6 617 L502.5 620.3 L478.9 634.7Z" stroke-width="1.7" class="w"/>
<path d="M470.5 630.5 L478.9 634.7 L486 656.6 L477.5 652.4Z" stroke-width="1.7" class="w"/>
<path d="M473 632.1 L479.9 654" stroke-width="1.1"/>
<path d="M448.8 620.7 L448.7 621 L448.5 621.3 L448.2 621.5 L447.9 621.6 L447.5 621.5 L447.2 621.3 L447 621 L447 620.7 L447 620.3 L447.2 620 L447.5 619.8 L447.9 619.8 L448.2 619.8 L448.5 620 L448.7 620.3 L448.8 620.7Z" stroke-width="0.6" class="k"/>
<path d="M454.5 638.5 L454.4 638.9 L454.2 639.2 L453.9 639.4 L453.6 639.4 L453.3 639.4 L453 639.2 L452.8 638.9 L452.7 638.5 L452.8 638.2 L453 637.9 L453.3 637.7 L453.6 637.6 L453.9 637.7 L454.2 637.9 L454.4 638.2 L454.5 638.5Z" stroke-width="0.6" class="k"/>
<path d="M475.7 635.5 L475.7 635.9 L475.5 636.1 L475.2 636.3 L474.8 636.4 L474.5 636.3 L474.2 636.1 L474 635.9 L473.9 635.5 L474 635.2 L474.2 634.9 L474.5 634.7 L474.8 634.6 L475.2 634.7 L475.5 634.9 L475.7 635.2 L475.7 635.5Z" stroke-width="0.6" class="k"/>
<path d="M481.1 653 L481.1 653.4 L480.9 653.7 L480.6 653.9 L480.2 653.9 L479.9 653.9 L479.6 653.7 L479.4 653.4 L479.3 653 L479.4 652.7 L479.6 652.4 L479.9 652.2 L480.2 652.1 L480.6 652.2 L480.9 652.4 L481.1 652.7 L481.1 653Z" stroke-width="0.6" class="k"/>
<path d="M486.5 632.1 L504.2 628.1 L529.4 642.3 L531.1 650.7 L527.8 659.1 L519.3 663.3 L511.7 660.8 L509.2 659.1 L488.1 647.3Z" stroke="none" class="w"/>
<path d="M487.6 631.8 L504.2 628.1 L529.4 642.3" stroke-width="1.7"/>
<path d="M488.1 647.3 L509.2 659.1" stroke-width="1.7"/>
<path d="M529.1 641.9 L532.1 640.2 L534.5 642.6 L531.1 644.9Z" stroke-width="1.7" class="w"/>
<path d="M501.6 657.1 L506.2 655.4 L507.5 658.3 L502.8 660.8Z" stroke-width="1.7" class="w"/>
<path d="M529.4 642.3 C531.2 643.8 531.7 647.9 531.5 650.7 C531.2 653.5 529.8 657 527.8 659.1 C525.7 661.2 522.1 663.1 519.3 663.3 C516.9 663.5 513.8 662.3 512.1 660.8 C510.5 659.4 509.3 657.1 509.2 654.9 C509.1 652.4 510.7 648.7 512.6 646.5 C514.6 644.1 518.1 642.1 521 641.4 C523.7 640.8 527.7 640.7 529.4 642.3Z" stroke-width="1.7" class="w"/>
<path d="M520.3 644.9 L520.1 645.6 L519.8 646.1 L519.3 646.4 L518.7 646.5 L518 646.4 L517.5 646.1 L517.2 645.6 L517.1 644.9 L517.2 644.3 L517.5 643.8 L518 643.5 L518.7 643.3 L519.3 643.5 L519.8 643.8 L520.1 644.3 L520.3 644.9Z" stroke-width="1.3"/>
<!-- bracket 23 -->
<path d="M373.3 687.4 L395.1 672.4 L397.6 672.9 L412.2 690.2 L412.2 694.4 L404.7 697.6 L410 706.1 L409.2 709.9 L388.1 725.3 L371.2 717.6 L369.8 711.3 L375.4 707.1 L375.4 700.7 L373.3 693Z" stroke-width="1.9" class="w"/>
<path d="M373.3 692 L395.1 677.6 L398.2 678.5" stroke-width="1.7"/>
<path d="M395.1 672.4 L395.1 677.6" stroke-width="1.7"/>
<path d="M398.2 678.5 L397.9 695.4" stroke-width="1.7"/>
<path d="M398.2 678.5 L397.6 672.9" stroke-width="1.3"/>
<path d="M379.7 701 C379.7 699.1 379 696.9 379.7 695.4 C380.3 694 381.9 692.5 383.2 692.3 C384.3 692.1 386 692.8 386.7 693.7 C387.5 694.7 387.2 696.7 387.5 698.2" stroke-width="1.7"/>
<path d="M390.2 694.4 C390.4 692.1 390.1 689.2 390.9 687.5 C391.5 686.2 392.7 685 393.7 684.7 C394.6 684.5 395.8 685.3 396.8 685.6" stroke-width="1.7"/>
<path d="M403.5 690.2 L409.4 694.4 L403.5 697.9Z" stroke-width="1.7"/>
<path d="M375.4 707.1 L393 696.5 L410 706.1" stroke-width="1.7"/>
<path d="M393 696.5 L392.6 692.6" stroke-width="1.3"/>
<path d="M369.8 711.3 L388.1 721.5 L409.2 709.9" stroke-width="1.7"/>
<path d="M388.1 721.5 L388.1 725.3" stroke-width="1.3"/>
<path d="M378 709.2 L395.1 700" stroke-width="1.3"/>
<path d="M383.2 712.2 L398.2 703.8" stroke-width="1.3"/>
<path d="M375.4 715.5 L383.2 712.2 L388.8 715.5" stroke-width="1.3"/>
<path d="M386.7 704.7 L393.7 708.5" stroke-width="1.3"/>
<path d="M384.9 683.1 L384.5 683.7 L383.9 684.1 L383.4 684.3 L382.9 684.2 L382.6 683.8 L382.4 683.3 L382.5 682.6 L382.8 681.9 L383.3 681.3 L383.8 680.8 L384.4 680.6 L384.9 680.7 L385.2 681.1 L385.3 681.7 L385.2 682.4 L384.9 683.1Z" stroke-width="0.6" class="k"/>
<path d="M382.6 704.7 L382.6 705.1 L382.4 705.5 L382 705.9 L381.4 706.2 L380.8 706.3 L380.2 706.3 L379.8 706.1 L379.6 705.8 L379.5 705.4 L379.8 704.9 L380.2 704.6 L380.7 704.3 L381.3 704.1 L381.9 704.2 L382.3 704.4 L382.6 704.7Z" stroke-width="0.6" class="k"/>
<path d="M376.9 701 L378 705.6" stroke-width="2.3"/>
<!-- bumper 1 -->
<path d="M106.1 730.1 L99.8 749 L106.1 756.4 L108.2 749 L114.5 746.9 L120.8 754.3 L126.1 739.5 L117.7 731.1Z" stroke-width="1.7" class="w"/>
<path d="M108.2 749 L110.3 733.2" stroke-width="1.3"/>
<path d="M114.5 746.9 L117.7 731.7" stroke-width="1.3"/>
<path d="M114.5 746.9 L120.2 740.6 L126.1 739.5" stroke-width="1.3"/>
<path d="M191.4 748 L181.9 759.5 L188.2 768 L191.4 762.7 L201.9 774.3 L201.9 774.3 L214.5 756.4 L208.2 747.3 L193.4 745.9Z" stroke-width="1.7" class="w"/>
<path d="M191.4 762.7 L199.8 751.1" stroke-width="1.3"/>
<path d="M189.2 765.4 L202.9 749" stroke-width="1.3"/>
<path d="M74.5 692.1 L77.6 687.9 L85 686.2 L91.3 687.9 L94.5 690 L122.9 694.2 L136.6 681.6 L151.4 670 L160.2 664.7 L186.1 661.6 L188.2 663.7 L187.2 674.2 L178.8 674.9 L170.3 678.4 L155.6 690 L138.7 711.1 L128.2 711.5 L138.7 714.3 L195.6 724.8 L204 724.8 L205 726.3 L212.4 721.6 L237.7 696.3 L254.5 683.7 L267.2 679.5 L277.7 679.1 L288.2 683.7 L288.2 696.3 L280.9 697.4 L273.5 701.6 L250.3 718.5 L284 729 L303 728.4 L312.4 732.2 L319.8 738.5 L316.7 742.7 L303 746.9 L269.3 751.5 L214.5 756.4 L208.2 747.3 L195.6 744.8 L126.1 739.5 L117.7 731.1 L106.1 730.1 L92.4 720.6 L81.9 711.1 L74.5 700.6Z" stroke="none" class="w"/>
<path d="M106.1 730.1 C101.5 726.9 96.6 723.9 92.4 720.6 C88.5 717.5 84.9 714.5 81.9 711.1 C79 707.8 75.6 704 74.5 700.6 C73.6 697.7 73.7 694.4 74.5 692.1 C75.1 690.4 76.1 688.9 77.6 687.9 C79.4 686.7 82.7 686.2 85 686.2 C87.2 686.3 89.6 687.2 91.3 687.9 C92.6 688.5 93.4 689.3 94.5 690" stroke-width="1.9"/>
<path d="M94.5 690 L122.9 694.2" stroke-width="1.7"/>
<path d="M77.6 693.2 C78.7 695.6 79.1 697.9 80.8 700.6 C83.3 704.4 88.1 709.4 92.4 713.2 C96.8 717.1 102.2 720.2 107.1 723.7" stroke-width="1.3"/>
<path d="M92.4 715.3 L99.8 701.6" stroke-width="1.3"/>
<path d="M82.9 703.7 L87.1 695.3" stroke-width="1.3"/>
<path d="M91.3 687.9 L96.6 695.3 L113.5 705.8" stroke-width="1.3"/>
<path d="M106.1 726.3 C107.5 723.3 108.4 721 110.3 717.4 C113.3 711.5 118.1 700.5 122.9 694.2 C127 689 131.9 685.6 136.6 681.6 C141.4 677.6 147 673 151.4 670 C154.6 667.8 156.8 666 160.2 664.7 C164.3 663.3 170 663.2 174.5 662.6 C178.6 662.2 182.3 661.9 186.1 661.6" stroke-width="1.9"/>
<path d="M186.1 661.6 L188.2 663.7 L187.2 674.2 L178.8 674.9" stroke-width="1.9"/>
<path d="M178.8 674.9 C175.9 676.1 173.4 676.6 170.3 678.4 C165.9 681 160.4 685.3 155.6 690 C149.8 695.7 142.3 705 138.7 711.1 C136.4 715 135.9 718.1 134.5 721.6" stroke-width="1.7"/>
<path d="M128.2 711.5 C128.3 709.6 127.7 708 128.6 705.8 C130.4 701.5 137.8 694.2 142.9 689 C148.2 683.7 154.1 677.7 159.8 674.2 C164.6 671.3 169.8 669.9 174.5 668.5 C178.9 667.3 183 666.9 187.2 666" stroke-width="1.7"/>
<path d="M132.4 725.8 L138.7 714.9" stroke-width="1.3"/>
<path d="M128.2 711.5 L138.7 714.3 L195.6 724.8 L204 724.8 L205 726.3" stroke-width="1.7"/>
<path d="M173.5 736.4 L185.1 724.2" stroke-width="1.3"/>
<path d="M106.1 726.3 L195.6 742.7 L208.2 744.8 L208.2 742.7" stroke-width="1.9"/>
<path d="M106.1 728.4 L195.6 744.8" stroke-width="1.3"/>
<path d="M126.1 739.5 L189.3 751.1" stroke-width="1.7"/>
<path d="M150.3 733.2 L159.8 744.8" stroke-width="1.3"/>
<path d="M205 726.3 C207.5 724.7 209.4 724 212.4 721.6 C218.5 716.7 229.9 703.1 237.7 696.3 C243.7 691.2 249.1 686.6 254.5 683.7 C258.8 681.4 263.1 680.2 267.2 679.5 C270.8 678.8 274.3 678.4 277.7 679.1 C281.3 679.8 284.7 682.2 288.2 683.7" stroke-width="1.9"/>
<path d="M288.2 683.7 L288.2 696.3 L280.9 697.4" stroke-width="1.9"/>
<path d="M280.9 697.4 C278.4 698.8 276.6 699.6 273.5 701.6 C267.8 705.3 258 712.8 250.3 718.5" stroke-width="1.7"/>
<path d="M207.8 743.1 C217 733.8 227.2 723.7 235.6 715.3 C242.5 708.4 248.3 701.3 254.5 696.3 C259.5 692.3 264.9 688.8 269.3 686.9 C272.3 685.5 274.7 684.8 277.7 684.8 C280.9 684.7 284.4 686.2 287.8 686.9" stroke-width="1.7"/>
<path d="M210.3 745.2 C219.4 735.9 229.5 725.8 237.7 717.4 C244.3 710.6 249.8 703.8 255.6 698.9 C260.2 695 264.7 692.7 269.3 689.6" stroke-width="1.3"/>
<path d="M226.1 729.6 C229.9 725 234.6 717.6 237.7 715.7 C239.1 714.9 240.1 714.7 241.5 714.9 C243.4 715.2 246 717.3 248.2 718.5" stroke-width="1.7"/>
<path d="M248.2 718.5 C260.1 722 273.9 727.7 284 729 C291.2 729.9 297.8 727.5 303 728.4 C306.8 729 309.6 730.4 312.4 732.2 C315.2 733.8 319.6 736.5 319.8 738.5 C320 739.9 318.4 741.5 316.7 742.7 C313.9 744.7 308.6 745.7 303 746.9 C294.3 748.8 281.9 750.1 269.3 751.5 C253.2 753.3 232.7 754.8 214.5 756.4" stroke-width="1.9"/>
<path d="M226.1 729.6 L284 730.1" stroke-width="1.3"/>
<path d="M209.9 746.5 C222.6 745.9 235.5 745.4 248.2 744.8 C260.9 744.2 276 743.9 286.1 742.7 C292.9 741.9 298.1 741.2 303 739.5 C307.1 738.1 310.3 735.7 313.9 733.8" stroke-width="1.7"/>
<path d="M239.8 742.7 L252.4 731.1" stroke-width="1.3"/>
<path d="M273.5 741 L284 731.1" stroke-width="1.3"/>
<path d="M208.2 742.7 L209.9 746.5 L214.5 756.4" stroke-width="1.7"/>
<path d="M86.5 693.6 L86.5 694.3 L86.1 695 L85.4 695.6 L84.4 696 L83.4 696.1 L82.5 695.9 L81.8 695.5 L81.4 694.9 L81.5 694.2 L81.9 693.5 L82.6 692.9 L83.5 692.5 L84.5 692.4 L85.4 692.5 L86.1 693 L86.5 693.6Z" stroke-width="1.3" class="w"/>
<path d="M85.1 693.9 L85.1 694.2 L84.9 694.5 L84.6 694.8 L84.2 695 L83.7 695 L83.3 695 L83 694.8 L82.8 694.5 L82.8 694.2 L83 693.9 L83.3 693.7 L83.8 693.5 L84.2 693.5 L84.6 693.5 L85 693.7 L85.1 693.9Z" stroke-width="0.5" class="k"/>
<path d="M117 715.3 L117 716 L116.6 716.7 L115.9 717.3 L115 717.7 L114 717.8 L113.1 717.6 L112.4 717.2 L112 716.6 L112 715.9 L112.4 715.2 L113.1 714.6 L114 714.2 L115 714.1 L116 714.2 L116.6 714.6 L117 715.3Z" stroke-width="1.3" class="w"/>
<path d="M115.7 715.6 L115.7 715.9 L115.5 716.2 L115.1 716.5 L114.7 716.7 L114.2 716.7 L113.8 716.7 L113.5 716.5 L113.3 716.2 L113.4 715.9 L113.5 715.6 L113.9 715.4 L114.3 715.2 L114.8 715.1 L115.2 715.2 L115.5 715.4 L115.7 715.6Z" stroke-width="0.5" class="k"/>
<path d="M210.8 733.2 L210.7 733.9 L210.4 734.6 L209.6 735.2 L208.7 735.6 L207.7 735.7 L206.8 735.5 L206.1 735.1 L205.7 734.5 L205.7 733.8 L206.1 733.1 L206.9 732.5 L207.8 732.1 L208.8 732 L209.7 732.1 L210.4 732.6 L210.8 733.2Z" stroke-width="1.3" class="w"/>
<path d="M209.4 733.5 L209.4 733.8 L209.2 734.1 L208.9 734.4 L208.4 734.6 L208 734.6 L207.6 734.6 L207.3 734.4 L207.1 734.2 L207.1 733.9 L207.3 733.5 L207.6 733.3 L208.1 733.1 L208.5 733.1 L208.9 733.1 L209.2 733.3 L209.4 733.5Z" stroke-width="0.5" class="k"/>
<path d="M164.8 663.7 L164.8 664.4 L164.4 665.1 L163.7 665.7 L162.8 666.1 L161.8 666.2 L160.9 666 L160.2 665.6 L159.8 665 L159.8 664.3 L160.2 663.6 L160.9 663 L161.9 662.6 L162.9 662.5 L163.8 662.6 L164.5 663 L164.8 663.7Z" stroke-width="1.3" class="w"/>
<path d="M163.5 664 L163.5 664.3 L163.3 664.6 L162.9 664.9 L162.5 665 L162.1 665.1 L161.6 665.1 L161.3 664.9 L161.2 664.6 L161.2 664.3 L161.4 664 L161.7 663.8 L162.1 663.6 L162.6 663.5 L163 663.6 L163.3 663.8 L163.5 664Z" stroke-width="0.5" class="k"/>
<path d="M266.5 683.5 L266.5 684.2 L266.1 684.9 L265.4 685.5 L264.5 685.9 L263.5 686 L262.6 685.8 L261.9 685.4 L261.5 684.8 L261.5 684.1 L261.9 683.4 L262.6 682.8 L263.5 682.4 L264.5 682.3 L265.4 682.4 L266.1 682.8 L266.5 683.5Z" stroke-width="1.3" class="w"/>
<path d="M265.2 683.8 L265.1 684.1 L265 684.4 L264.6 684.7 L264.2 684.9 L263.7 684.9 L263.3 684.9 L263 684.7 L262.8 684.4 L262.9 684.1 L263 683.8 L263.4 683.6 L263.8 683.4 L264.3 683.3 L264.7 683.4 L265 683.6 L265.2 683.8Z" stroke-width="0.5" class="k"/>
<path d="M290.7 733.6 L290.7 734.3 L290.3 735 L289.6 735.6 L288.7 736 L287.7 736.1 L286.8 736 L286.1 735.6 L285.7 734.9 L285.7 734.2 L286.1 733.5 L286.8 732.9 L287.8 732.5 L288.8 732.4 L289.7 732.6 L290.4 733 L290.7 733.6Z" stroke-width="1.3" class="w"/>
<path d="M289.4 734 L289.4 734.3 L289.2 734.6 L288.8 734.8 L288.4 735 L288 735.1 L287.5 735 L287.2 734.8 L287.1 734.6 L287.1 734.3 L287.3 734 L287.6 733.7 L288 733.5 L288.5 733.5 L288.9 733.5 L289.2 733.7 L289.4 734Z" stroke-width="0.5" class="k"/>
<!-- cushion 16 -->
<path d="M508.5 6.5 C512.9 6.3 518.6 6.8 523.1 8 C527.2 9.1 531.2 10.9 534.7 13.1 C537.9 15.1 541.2 17.5 543.4 20.3 C545.4 22.9 546.9 25.9 547.7 29 C548.6 32.2 548.7 35.4 548.5 39.2 C548.2 43.9 546.8 49.5 545.6 55.2 C544.2 61.5 542.1 69 540.5 75.5 C539 81.5 537.5 88.1 536.1 92.9 C535.1 96.3 534.6 99.3 533.2 101.6 C532.1 103.5 530.6 104.9 528.9 106 C527 107 524.5 107.5 522.3 107.7 C520.2 107.9 518 108 515.8 107.4 C513.4 106.8 511.4 105.2 508.5 103.8 C504.5 101.8 498.4 99 494 96.5 C490.3 94.4 486.4 92.3 483.9 90 C481.9 88.2 480.5 86.6 479.5 84.2 C478.2 81.1 478.2 76.7 477.8 72.6 C477.3 68 477 62.9 476.9 58.1 C476.8 53.2 476.8 48.1 477.3 43.5 C477.8 39.4 478.4 35.6 479.5 31.9 C480.6 28.4 482.1 24.9 483.9 21.8 C485.5 18.8 487.3 16 489.7 13.8 C492.1 11.6 495.3 9.9 498.4 8.7 C501.5 7.5 504.8 6.7 508.5 6.5Z" stroke-width="1.7" class="w"/>
<path d="M499.1 13.4 C502.3 13.7 505.4 13.7 508.5 14.5 C511.9 15.4 515.7 17.2 518.7 18.9 C521.4 20.4 524.2 21.9 526 23.9 C527.5 25.8 528.4 27.9 528.9 30.5 C529.5 33.7 529.3 38.4 528.6 42.1 C527.8 45.7 526.1 48.8 524.5 52.2 C522.8 56 520.4 59.8 518.7 63.9 C517 68 515.7 72.4 514.3 76.9 C513 81.6 511.6 87.2 510.7 91.4 C510 94.7 509.1 97.6 509.3 100.1 C509.4 102.1 509.7 104 510.7 105.2 C511.8 106.5 514.1 106.7 515.8 107.4"/>
<path d="M499.1 13.4 C496 14.5 492.2 14.8 489.7 16.7 C487.1 18.6 485.4 21.6 483.9 24.7 C482.2 28.1 481.1 32.2 480.2 36.3 C479.3 40.8 479 46 478.8 50.8 C478.6 55.6 478.8 60.6 479.1 65.3 C479.3 69.8 479.7 74.7 480.2 78.4 C480.6 81.2 480.6 83.6 481.7 85.6 C482.8 87.7 484.7 89.1 486.8 90.7 C489.5 92.8 493.4 94.7 496.9 96.5 C500.6 98.4 504.7 99.9 508.5 101.6"/>
<path d="M512.9 7.3 C518.2 8.7 524.3 9.4 528.9 11.6 C532.8 13.5 536.5 15.9 539 18.9 C541.5 21.7 543.2 25.4 544.1 29 C545 32.7 544.8 36.6 544.5 40.6 C544.2 45.2 543.1 50.3 541.9 55.2 C540.8 60 539.1 65.1 537.6 69.7 C536.2 73.8 534.7 77.4 533.2 81.3 C531.8 85.1 530.3 89.3 528.9 92.9 C527.6 96 526.1 99.1 525.2 101.6 C524.6 103.5 524.3 105 523.8 106.7"/>
<path d="M537.6 61 C536.1 63.9 534.5 66.3 533.2 69.7 C531.6 73.8 530.2 79.8 528.9 84.2 C527.8 87.9 526.9 91 526 94.3 C525 97.5 524 100.6 523.1 103.8" stroke-width="1.1"/>
<!-- bracket 15 -->
<path d="M569.7 116.7 L573.1 115.2 L601.2 112.4 L607.4 111.9 L611.5 114.9 L583.2 122 L579.8 122.3Z" class="w"/>
<path d="M569.7 116.7 L569.9 117.8 L580.1 123.4 L583.4 123.1 L611.3 116 L611.5 114.9" stroke-width="1.1"/>
<path d="M578.7 59 C580.2 61.5 581.6 63.2 583.2 66.3 C585.8 71.3 589.4 80.4 592.2 86.6 C594.6 91.8 597.4 96.8 598.9 101.2 C600.1 104.5 600.9 108.1 601.2 110.2 C601.3 111.2 601.2 111.8 601.2 112.6 L583.8 118.6 L578.5 116.9 L575.1 78.7Z" class="w"/>
<path d="M575.1 78.7 L581 80.1 L583.8 118.6 L578.5 116.9Z" class="w"/>
<path d="M577.1 79.3 L580.3 117.6" stroke-width="1.1"/>
<path d="M561.9 55.7 L577.6 58.3 L579.3 59.8 L574.7 78.7 L571.5 79.4 L569.2 77 L563.5 75.3 L559 72 L558.5 69.2Z" stroke-width="1.7" class="w"/>
<path d="M566.9 56.8 L563.3 74.9"/>
<path d="M568.8 57.4 L565.8 75.6"/>
<path d="M572 58.7 L569.2 77"/>
<path d="M577.6 58.3 L573.7 78.5" stroke-width="1.1"/>
<path d="M563.9 59.4 L563.8 59.8 L563.6 60.2 L563.3 60.5 L563 60.6 L562.6 60.5 L562.3 60.2 L562.1 59.8 L562.1 59.4 L562.1 58.9 L562.3 58.5 L562.6 58.3 L563 58.2 L563.3 58.3 L563.6 58.5 L563.8 58.9 L563.9 59.4Z" stroke-width="0.6" class="k"/>
<path d="M561.3 71.1 L561.2 71.5 L561 71.9 L560.7 72.2 L560.4 72.3 L560 72.2 L559.8 71.9 L559.6 71.5 L559.5 71.1 L559.6 70.6 L559.8 70.2 L560 70 L560.4 69.9 L560.7 70 L561 70.2 L561.2 70.6 L561.3 71.1Z" stroke-width="0.6" class="k"/>
<path d="M574.9 62.8 L574.8 63.2 L574.6 63.6 L574.3 63.9 L574 64 L573.6 63.9 L573.4 63.6 L573.2 63.2 L573.1 62.8 L573.2 62.3 L573.4 61.9 L573.6 61.6 L574 61.6 L574.3 61.6 L574.6 61.9 L574.8 62.3 L574.9 62.8Z" stroke-width="0.6" class="k"/>
<path d="M572.4 75.1 L572.3 75.6 L572.2 76 L571.9 76.2 L571.5 76.3 L571.2 76.2 L570.9 76 L570.7 75.6 L570.6 75.1 L570.7 74.7 L570.9 74.3 L571.2 74 L571.5 73.9 L571.9 74 L572.2 74.3 L572.3 74.7 L572.4 75.1Z" stroke-width="0.6" class="k"/>
<path d="M573.8 116.6 L573.7 116.9 L573.3 117.2 L572.8 117.4 L572.2 117.5 L571.6 117.4 L571.1 117.2 L570.7 116.9 L570.6 116.6 L570.7 116.2 L571.1 115.9 L571.6 115.7 L572.2 115.7 L572.8 115.7 L573.3 115.9 L573.7 116.2 L573.8 116.6Z" stroke-width="1"/>
<path d="M610.6 114.7 L610.5 115 L610.2 115.3 L609.7 115.5 L609 115.6 L608.4 115.5 L607.9 115.3 L607.6 115 L607.4 114.7 L607.6 114.3 L607.9 114 L608.4 113.8 L609 113.8 L609.7 113.8 L610.2 114 L610.5 114.3 L610.6 114.7Z" stroke-width="1"/>
<!-- handle 10 -->
<path d="M263.9 134.9 L267 131.9 L275.8 130.9 L296.9 131.9 L301.3 131.4 L325.8 131.9 L328.5 134 L329.3 139 L361.8 139 L365.3 140.2 L372.4 152.5 L376.7 153.4 L375.9 156 L369.7 156 L361.8 144.9 L358.3 146.3 L309.2 148.1 L295.1 146.3 L277.6 141.9 L267 138.4Z" stroke-width="1.7" class="w"/>
<path d="M265.3 135.8 C267 135.1 268.5 134.1 270.5 133.7 C273 133.2 276 133.2 279.3 133.3 C283.8 133.6 290 134.4 295.1 135.4 C300 136.5 304.5 138.3 309.2 139.7" stroke-width="1.3"/>
<path d="M309.2 139.7 L361.8 141.1" stroke-width="1.3"/>
<path d="M267 137.6 C271.1 138.6 274.9 139.7 279.3 140.7 C284.2 141.8 290 143.1 295.1 143.9 C299.9 144.6 304.5 144.8 309.2 145.3" stroke-width="1.3"/>
<path d="M309.2 145.3 L358.3 144.2" stroke-width="1.3"/>
<path d="M296.9 131.9 L303.9 136.2 L328.8 136.7" stroke-width="1.3"/>
<path d="M279.3 133.3 L297.7 134 L303.9 136.2" stroke-width="1.1"/>
<path d="M279.7 136.2 L282.5 139.1" stroke-width="2.4"/>
<path d="M285.5 136.8 L288.3 139.8" stroke-width="2.4"/>
<path d="M291.2 137.5 L294.1 140.5" stroke-width="2.4"/>
<path d="M310.6 140.7 L312 144.6" stroke-width="2.2"/>
<path d="M315.8 140.7 L317.2 144.6" stroke-width="2.2"/>
<path d="M321.1 140.7 L322.5 144.6" stroke-width="2.2"/>
<path d="M326.4 140.7 L327.8 144.6" stroke-width="2.2"/>
<path d="M331.6 140.7 L333 144.6" stroke-width="2.2"/>
<path d="M336.9 140.7 L338.3 144.6" stroke-width="2.2"/>
<path d="M342.2 140.7 L343.6 144.6" stroke-width="2.2"/>
<path d="M347.4 140.7 L348.8 144.6" stroke-width="2.2"/>
<path d="M352.7 140.7 L354.1 144.6" stroke-width="2.2"/>
<path d="M358 140.7 L359.4 144.6" stroke-width="2.2"/>
<path d="M361.8 141.1 L368.5 153.4" stroke-width="1.1"/>
<path d="M368.5 153 L376.7 153 L377.3 154.8 L375 156.2 L369.2 156.2Z" stroke-width="0.8" class="k"/>
<!-- handle 11 -->
<path d="M408.4 139.8 L410.9 136.7 L417.6 131.9 L435.1 125.8 L450.9 120.5 L455.3 120.2 L457.9 123.2 L460.6 128.4 L464.1 131.9 L463.2 134.6 L457.9 134.6 L454.4 130.2 L451.8 127 L435.1 131.4 L419.3 137.2 L415.8 140.2 L426.3 142.1 L437.7 143.4 L459.7 144.2 L486.9 146 L490.4 150.4 L489.5 156.5 L475.5 160.9 L470.2 159.2 L461.4 151.3 L436.9 149.5 L431.6 151.3 L417.6 147.2 L410.5 144.2Z" stroke-width="1.7" class="w"/>
<path d="M412.3 143 L437.7 146.5 L459.7 147.7 L489.9 152.1" stroke-width="1.3"/>
<path d="M456.2 144.6 L470.2 159.2" stroke-width="1.3"/>
<path d="M437.7 143.4 L437.7 149.5" stroke-width="1.1"/>
<path d="M431.6 149 L436.9 149.5" stroke-width="1.1"/>
<path d="M416.7 132.8 L418.8 137.4" stroke-width="1.8"/>
<path d="M419.4 131.9 L421.5 136.5" stroke-width="1.8"/>
<path d="M422.1 131 L424.2 135.6" stroke-width="1.8"/>
<path d="M424.8 130.1 L426.9 134.7" stroke-width="1.8"/>
<path d="M427.6 129.2 L429.7 133.7" stroke-width="1.8"/>
<path d="M430.3 128.3 L432.4 132.8" stroke-width="1.8"/>
<path d="M433 127.4 L435.1 131.9" stroke-width="1.8"/>
<path d="M435.7 126.4 L437.8 131" stroke-width="1.8"/>
<path d="M438.4 125.5 L440.6 130.1" stroke-width="1.8"/>
<path d="M441.2 124.6 L443.3 129.2" stroke-width="1.8"/>
<path d="M443.9 123.7 L446 128.3" stroke-width="1.8"/>
<path d="M446.6 122.8 L448.7 127.4" stroke-width="1.8"/>
<path d="M449.3 121.9 L451.4 126.4" stroke-width="1.8"/>
<path d="M452.1 121 L454.2 125.5" stroke-width="1.8"/>
<path d="M455.8 124.9 L458.8 129.7 L461.4 132.5" stroke-width="1.1"/>
<path d="M478.2 156.4 L478 157.2 L477.6 157.8 L477 158.2 L476.2 158.4 L475.4 158.2 L474.8 157.8 L474.4 157.2 L474.2 156.4 L474.4 155.6 L474.8 155 L475.4 154.6 L476.2 154.4 L477 154.6 L477.6 155 L478 155.6 L478.2 156.4Z" stroke-width="0.6" class="k"/>
<path d="M485.7 154.7 L485.5 155.5 L485.1 156.1 L484.5 156.5 L483.7 156.7 L482.9 156.5 L482.3 156.1 L481.9 155.5 L481.7 154.7 L481.9 153.9 L482.3 153.3 L482.9 152.9 L483.7 152.7 L484.5 152.9 L485.1 153.3 L485.5 153.9 L485.7 154.7Z" stroke-width="0.6" class="k"/>
<!-- bolts & nuts -->
<path d="M396.8 58.1 L396.8 56.1 L398 54.7 L401.2 54.7 L402.5 56.1 L402.5 58.1Z" stroke-width="0.8" class="k"/>
<path d="M398.2 58.1 L398.2 64 L401.1 64 L401.1 58.1Z" stroke-width="0.8" class="k"/>
<path d="M370.3 127.4 L370.3 125.4 L371.6 124 L374.8 124 L376.1 125.4 L376.1 127.4Z" stroke-width="0.8" class="k"/>
<path d="M371.8 127.4 L371.8 133.8 L374.6 133.8 L374.6 127.4Z" stroke-width="0.8" class="k"/>
<path d="M325.9 227.6 L325.9 225.6 L327.2 224.2 L330.4 224.2 L331.7 225.6 L331.7 227.6Z" stroke-width="0.8" class="k"/>
<path d="M327.4 227.6 L327.4 234 L330.2 234 L330.2 227.6Z" stroke-width="0.8" class="k"/>
<path d="M375.4 321.6 L375.4 319.6 L376.7 318.2 L379.9 318.2 L381.2 319.6 L381.2 321.6Z" stroke-width="0.8" class="k"/>
<path d="M376.9 321.6 L376.9 327.5 L379.8 327.5 L379.8 321.6Z" stroke-width="0.8" class="k"/>
<path d="M354.6 364.9 L354.6 362.9 L355.9 361.5 L359.1 361.5 L360.4 362.9 L360.4 364.9Z" stroke-width="0.8" class="k"/>
<path d="M356.1 364.9 L356.1 371.3 L358.9 371.3 L358.9 364.9Z" stroke-width="0.8" class="k"/>
<path d="M550.2 313.1 L550.2 311.1 L551.5 309.7 L554.7 309.7 L556 311.1 L556 313.1Z" stroke-width="0.8" class="k"/>
<path d="M551.6 313.1 L551.6 319 L554.6 319 L554.6 313.1Z" stroke-width="0.8" class="k"/>
<path d="M604.4 92.4 L604.4 90.4 L605.6 89 L608.8 89 L610.1 90.4 L610.1 92.4Z" stroke-width="0.8" class="k"/>
<path d="M605.8 92.4 L605.8 99.3 L608.7 99.3 L608.7 92.4Z" stroke-width="0.8" class="k"/>
<path d="M617.3 69.7 L619.3 70.2 L620.4 71.7 L619.7 74.8 L618 75.7 L616.1 75.3Z" stroke-width="0.8" class="k"/>
<path d="M617 71.1 L608.3 69.1 L607.7 71.9 L616.4 73.9Z" stroke-width="0.8" class="k"/>
<path d="M518.5 168.5 L520.3 169.4 L521 171.1 L519.8 173.5 L518 173.9 L516.3 173Z" stroke-width="0.8" class="k"/>
<path d="M518.1 169.5 L513.7 167.2 L512.4 169.8 L516.7 172.1Z" stroke-width="0.8" class="k"/>
<path d="M504.2 163.9 L501.2 165.8 L497.9 164.2 L497.4 160.7 L500.4 158.8 L503.7 160.4 L504.2 163.9Z" stroke-width="1.9" class="w"/>
<path d="M502.6 162.9 L501.8 163.7 L500.6 163.9 L499.5 163.3 L498.8 162.3 L499 161.1 L499.8 160.3 L501 160.1 L502.1 160.7 L502.8 161.7 L502.6 162.9Z" stroke-width="0.8" class="k"/>
<path d="M482.4 292 L479.5 296 L473.7 296 L470.8 292 L473.7 288 L479.5 288 L482.4 292Z" stroke-width="1.9" class="w"/>
<path d="M479.8 291.7 L479.2 293.2 L477.6 294.1 L475.6 294.1 L474 293.2 L473.4 291.7 L474 290.2 L475.6 289.3 L477.6 289.3 L479.2 290.2 L479.8 291.7Z" stroke-width="0.8" class="k"/>
<path d="M245 570 L242.2 574.3 L236.6 574.3 L233.8 570 L236.6 565.7 L242.2 565.7 L245 570Z" stroke-width="1.9" class="w"/>
<path d="M242.5 569.7 L241.9 571.3 L240.4 572.3 L238.4 572.3 L236.9 571.3 L236.3 569.7 L236.9 568.1 L238.4 567.1 L240.4 567.1 L241.9 568.1 L242.5 569.7Z" stroke-width="0.8" class="k"/>
<path d="M334.2 242.5 L333.8 243.5 L332.6 244.3 L330.9 244.8 L328.8 245 L326.7 244.8 L325 244.3 L323.8 243.5 L323.4 242.5 L323.8 241.5 L325 240.7 L326.7 240.2 L328.8 240 L330.9 240.2 L332.6 240.7 L333.8 241.5 L334.2 242.5Z" stroke-width="1.8" class="w"/>
<path d="M331.4 242.5 L331.2 242.9 L330.6 243.2 L329.8 243.4 L328.8 243.5 L327.8 243.4 L327 243.2 L326.4 242.9 L326.2 242.5 L326.4 242.1 L327 241.8 L327.8 241.6 L328.8 241.5 L329.8 241.6 L330.6 241.8 L331.2 242.1 L331.4 242.5Z" stroke-width="1.1" class="w"/>
<path d="M229.1 516.1 L228.5 516 L228 515.7 L227.4 515.1 L226.9 514.3 L226.5 513.4 L226.2 512.3 L226 511.2 L226 510.1 L226.2 509.2 L226.4 508.4 L226.8 507.9 L227.3 507.7 L230.3 506.7 L232.3 515.7Z" stroke-width="1.9" class="w"/>
<path d="M230.1 511.4 L230.3 513.1 L230.2 514.5 L229.7 515.6 L229.1 516.1 L228.2 515.9 L227.4 515.1 L226.7 513.9 L226.2 512.3 L226 510.6 L226.2 509.2 L226.6 508.1 L227.3 507.7 L228.1 507.8 L228.9 508.6 L229.6 509.9 L230.1 511.4Z" stroke-width="1.5"/>
<path d="M234 510.6 L234.3 512.7 L234.1 514.5 L233.6 515.8 L232.7 516.4 L231.7 516.2 L230.7 515.2 L229.8 513.6 L229.1 511.7 L228.9 509.6 L229.1 507.8 L229.6 506.5 L230.5 505.9 L231.5 506.1 L232.5 507 L233.4 508.6 L234 510.6Z" stroke-width="1.9" class="w"/>
<path d="M236.5 510.1 L236.7 512.2 L236.6 514 L236 515.3 L235.2 515.9 L234.1 515.7 L233.1 514.7 L232.2 513.1 L231.6 511.1 L231.3 509.1 L231.5 507.3 L232.1 505.9 L232.9 505.3 L233.9 505.5 L235 506.5 L235.9 508.1 L236.5 510.1Z" stroke-width="1.9" class="w"/>
<path d="M230.5 505.9 L232.9 505.3"/>
<path d="M232.7 516.4 L235.2 515.9"/>
<path d="M378.8 500.9 L378.2 500.8 L377.7 500.5 L377.1 499.9 L376.6 499.1 L376.2 498.2 L375.9 497.1 L375.7 496 L375.7 494.9 L375.9 494 L376.1 493.2 L376.5 492.7 L377 492.5 L380 491.5 L382 500.5Z" stroke-width="1.9" class="w"/>
<path d="M379.8 496.2 L380 497.9 L379.9 499.3 L379.4 500.4 L378.8 500.9 L377.9 500.7 L377.1 499.9 L376.4 498.7 L375.9 497.1 L375.7 495.4 L375.9 494 L376.3 492.9 L377 492.5 L377.8 492.6 L378.6 493.4 L379.3 494.7 L379.8 496.2Z" stroke-width="1.5"/>
<path d="M383.7 495.4 L384 497.5 L383.8 499.3 L383.3 500.6 L382.4 501.2 L381.4 501 L380.4 500 L379.5 498.4 L378.8 496.5 L378.6 494.4 L378.8 492.6 L379.3 491.3 L380.2 490.7 L381.2 490.9 L382.2 491.8 L383.1 493.4 L383.7 495.4Z" stroke-width="1.9" class="w"/>
<path d="M386.2 494.9 L386.4 497 L386.3 498.8 L385.7 500.1 L384.9 500.7 L383.8 500.5 L382.8 499.5 L381.9 497.9 L381.3 495.9 L381 493.9 L381.2 492.1 L381.8 490.7 L382.6 490.1 L383.6 490.3 L384.7 491.3 L385.6 492.9 L386.2 494.9Z" stroke-width="1.9" class="w"/>
<path d="M380.2 490.7 L382.6 490.1"/>
<path d="M382.4 501.2 L384.9 500.7"/>
<path d="M475 528.3 L474.4 528.2 L473.9 527.9 L473.3 527.3 L472.8 526.5 L472.4 525.6 L472.1 524.5 L471.9 523.4 L471.9 522.3 L472.1 521.4 L472.3 520.6 L472.7 520.1 L473.2 519.9 L476.2 518.9 L478.2 527.9Z" stroke-width="1.9" class="w"/>
<path d="M476 523.6 L476.2 525.3 L476.1 526.7 L475.6 527.8 L475 528.3 L474.1 528.1 L473.3 527.3 L472.6 526.1 L472.1 524.5 L471.9 522.8 L472.1 521.4 L472.5 520.3 L473.2 519.9 L474 520 L474.8 520.8 L475.5 522.1 L476 523.6Z" stroke-width="1.5"/>
<path d="M479.9 522.8 L480.2 524.9 L480 526.7 L479.5 528 L478.6 528.6 L477.6 528.4 L476.6 527.4 L475.7 525.8 L475 523.9 L474.8 521.8 L475 520 L475.5 518.7 L476.4 518.1 L477.4 518.3 L478.4 519.2 L479.3 520.8 L479.9 522.8Z" stroke-width="1.9" class="w"/>
<path d="M482.4 522.3 L482.6 524.4 L482.5 526.2 L481.9 527.5 L481.1 528.1 L480 527.9 L479 526.9 L478.1 525.3 L477.5 523.3 L477.2 521.3 L477.4 519.5 L478 518.1 L478.8 517.5 L479.8 517.7 L480.9 518.7 L481.8 520.3 L482.4 522.3Z" stroke-width="1.9" class="w"/>
<path d="M476.4 518.1 L478.8 517.5"/>
<path d="M478.6 528.6 L481.1 528.1"/>
<path d="M472.3 584.4 L471.7 584.3 L471.2 584 L470.6 583.4 L470.1 582.6 L469.7 581.7 L469.4 580.6 L469.2 579.5 L469.2 578.4 L469.4 577.5 L469.6 576.7 L470 576.2 L470.5 576 L473.5 575 L475.5 584Z" stroke-width="1.9" class="w"/>
<path d="M473.3 579.7 L473.5 581.4 L473.4 582.8 L472.9 583.9 L472.3 584.4 L471.4 584.2 L470.6 583.4 L469.9 582.2 L469.4 580.6 L469.2 578.9 L469.4 577.5 L469.8 576.4 L470.5 576 L471.3 576.1 L472.1 576.9 L472.8 578.2 L473.3 579.7Z" stroke-width="1.5"/>
<path d="M477.2 578.9 L477.5 581 L477.3 582.8 L476.8 584.1 L475.9 584.7 L474.9 584.5 L473.9 583.5 L473 581.9 L472.3 580 L472.1 577.9 L472.3 576.1 L472.8 574.8 L473.7 574.2 L474.7 574.4 L475.7 575.3 L476.6 576.9 L477.2 578.9Z" stroke-width="1.9" class="w"/>
<path d="M479.7 578.4 L479.9 580.5 L479.8 582.3 L479.2 583.6 L478.4 584.2 L477.3 584 L476.3 583 L475.4 581.4 L474.8 579.4 L474.5 577.4 L474.7 575.6 L475.3 574.2 L476.1 573.6 L477.1 573.8 L478.2 574.8 L479.1 576.4 L479.7 578.4Z" stroke-width="1.9" class="w"/>
<path d="M473.7 574.2 L476.1 573.6"/>
<path d="M475.9 584.7 L478.4 584.2"/>
<path d="M238.2 634.4 L240.8 633.5 L242.2 639.7 L239.3 639.9 L238 637.3Z" stroke-width="1" class="k"/>
<path d="M240.7 632.7 L242.1 632.4 L243.8 640.2 L242.3 640.5Z" stroke-width="1" class="k"/>
<path d="M242.6 634.3 L255.8 631.5 L256.6 635.4 L243.5 638.2Z" stroke-width="1.3" class="w"/>
<path d="M243.8 634.1 L245.4 637.8" stroke-width="0.9"/>
<path d="M245.9 633.6 L247.5 637.4" stroke-width="0.9"/>
<path d="M247.9 633.2 L249.5 636.9" stroke-width="0.9"/>
<path d="M250 632.8 L251.6 636.5" stroke-width="0.9"/>
<path d="M252 632.3 L253.7 636.1" stroke-width="0.9"/>
<path d="M254.1 631.9 L255.7 635.6" stroke-width="0.9"/>
<path d="M445 733.4 L442.3 732.8 L444.7 726.8 L447.1 728.3 L446.8 731.1Z" stroke-width="1" class="k"/>
<path d="M442 733.5 L440.6 732.9 L443.6 725.5 L445 726.1Z" stroke-width="1" class="k"/>
<path d="M441.3 731.1 L427.5 725.5 L429 721.8 L442.8 727.3Z" stroke-width="1.3" class="w"/>
<path d="M440.2 730.6 L440.9 726.6" stroke-width="0.9"/>
<path d="M438.2 729.8 L439 725.8" stroke-width="0.9"/>
<path d="M436.3 729 L437 725" stroke-width="0.9"/>
<path d="M434.3 728.2 L435.1 724.2" stroke-width="0.9"/>
<path d="M432.4 727.5 L433.1 723.5" stroke-width="0.9"/>
<path d="M430.4 726.7 L431.2 722.7" stroke-width="0.9"/>
<path d="M145.7 644.4 L146 645.3 L145.9 646.4 L145.3 647.4 L144.4 648.3 L143.2 648.8 L142.1 649 L141 648.8 L140.3 648.2 L140 647.3 L140.1 646.2 L140.7 645.2 L141.6 644.3 L142.8 643.8 L143.9 643.6 L145 643.8 L145.7 644.4Z" stroke-width="1.4" class="w"/>
<path d="M144.6 647.2 L153.1 654.3 L151.4 656.3 L143 649.2Z" stroke-width="1.1" class="w"/>
<path d="M146.2 648.5 L145 650.9" stroke-width="0.9"/>
<path d="M147.6 649.7 L146.3 652.1" stroke-width="0.9"/>
<path d="M148.9 650.8 L147.7 653.2" stroke-width="0.9"/>
<path d="M150.3 652 L149.1 654.4" stroke-width="0.9"/>
<path d="M151.7 653.1 L150.5 655.5" stroke-width="0.9"/>
<!-- leaders -->
<path d="M383.5 54.5 L397 56" class="ld"/>
<path d="M384 80 L394 89" class="ld"/>
<path d="M298 116 L304.5 132" class="ld"/>
<path d="M376 129.5 L382 128.5" class="ld"/>
<path d="M429.5 37.5 L487.5 54.5" class="ld"/>
<path d="M547 54.4 L560.8 58" class="ld"/>
<path d="M427.5 119.5 L435 126" class="ld"/>
<path d="M548 129 L574 119.5" class="ld"/>
<path d="M510 153.7 L501.2 162" class="ld"/>
<path d="M525 163.7 L518.7 170" class="ld"/>
<path d="M486.2 155.5 L517.5 171.2" class="ld"/>
<path d="M618.5 64.5 L614.5 70.5" class="ld"/>
<path d="M586.5 65 L608 70.5" class="ld"/>
<path d="M610 95 L620 94.5" class="ld"/>
<path d="M609 172.5 L618 181" class="ld"/>
<path d="M530 262.5 L560 280" class="ld"/>
<path d="M450 297.5 L471 292" class="ld"/>
<path d="M312 228.7 L326.3 229.3" class="ld"/>
<path d="M312 243.3 L323.4 242.8" class="ld"/>
<path d="M358 322 L375.5 323" class="ld"/>
<path d="M420 322.5 L429.5 331.2" class="ld"/>
<path d="M342.5 365 L355.7 366.2" class="ld"/>
<path d="M534.5 313.7 L550 315" class="ld"/>
<path d="M521.7 335 L531.2 343.7" class="ld"/>
<path d="M512.5 455 L548.7 476.2" class="ld"/>
<path d="M235 508.7 L248 503.7" class="ld"/>
<path d="M225.5 583.7 L238 574.5" class="ld"/>
<path d="M235 619.5 L245 632.5" class="ld"/>
<path d="M386.2 494.5 L407 488.7" class="ld"/>
<path d="M482.5 522 L498.7 516.2" class="ld"/>
<path d="M480 578 L507 572.5" class="ld"/>
<path d="M409.5 575 L420.5 602.5" class="ld"/>
<path d="M506.2 635 L544.5 602.5" class="ld"/>
<path d="M395 696 L439.5 694.7" class="ld"/>
<path d="M423 739 L435.5 730.2" class="ld"/>
<path d="M148.4 650.9 L162.5 643.7" class="ld"/>
<path d="M151 653.5 L163.7 664.2" class="ld"/>
<path d="M233.6 751.1 L252.5 780" class="ld"/>
<path d="M399.5 65.5 L399.5 187" class="ld"/>
<path d="M373.2 135.5 L373.2 209" class="ld"/>
<path d="M477 201 L477 290" class="ld"/>
<path d="M482.8 160.5 L482.8 262" class="ld"/>
<path d="M607.2 100.8 L607.2 142.5 L482.8 201.2" class="ld"/>
<path d="M378.2 329.2 L378.2 400" class="ld"/>
<path d="M357.5 372.8 L357.5 415" class="ld"/>
<path d="M357.5 426 L357.5 485" class="ld"/>
<path d="M553.2 321.8 L553.2 383.7 L546.4 385.2" class="ld"/>
<path d="M543 386 L524.6 390.2 L524.6 414.5" class="ld"/>
<path d="M524.6 417.8 L524.6 435" class="ld"/>
<path d="M328.8 245 L328.8 251 L364.2 234.9" class="ld"/>
<path d="M242.5 571.2 L292.5 583.7" class="ld"/>
<path d="M256.2 633.7 L360 606.2" class="ld"/>
<path d="M363.7 610.2 L338.7 686.5 L376.2 702" class="ld"/>
<path d="M400 713.5 L427 724.5" class="ld"/>
<path d="M347.5 605.2 L456.2 661.5 L475 657" class="ld"/>
<!-- labels -->
<g class="lbl" opacity="0.999">
<text transform="translate(374.3 59.5) scale(0.87 1)">7</text>
<text transform="translate(374.3 80.5) scale(0.87 1)">9</text>
<path class="g1" d="M294.2 115.8 L294.2 102 L292.5 102 L288.9 105.2 L288.9 107.4 L291.9 104.7 L291.9 115.8Z"/>
<text transform="translate(295.8 115.6) scale(0.87 1)">0</text>
<path class="g1" d="M388.3 133.2 L388.3 119.4 L386.6 119.4 L383 122.6 L383 124.8 L386 122.1 L386 133.2Z"/>
<text transform="translate(387.7 133) scale(0.87 1)">4</text>
<path class="g1" d="M420.8 41.2 L420.8 27.4 L419.1 27.4 L415.5 30.6 L415.5 32.8 L418.5 30.1 L418.5 41.2Z"/>
<text transform="translate(420.9 41) scale(0.87 1)">6</text>
<path class="g1" d="M423.6 117.7 L423.6 103.9 L421.9 103.9 L418.3 107.1 L418.3 109.3 L421.3 106.6 L421.3 117.7Z"/>
<path class="g1" d="M431.8 117.7 L431.8 103.9 L430.1 103.9 L426.5 107.1 L426.5 109.3 L429.5 106.6 L429.5 117.7Z"/>
<path class="g1" d="M538.8 138.2 L538.8 124.4 L537.1 124.4 L533.5 127.6 L533.5 129.8 L536.5 127.1 L536.5 138.2Z"/>
<text transform="translate(538.7 138) scale(0.87 1)">5</text>
<path class="g1" d="M515.1 155.2 L515.1 141.4 L513.4 141.4 L509.8 144.6 L509.8 146.8 L512.8 144.1 L512.8 155.2Z"/>
<text transform="translate(516 155) scale(0.87 1)">3</text>
<path class="g1" d="M531.6 166 L531.6 152.2 L529.9 152.2 L526.3 155.4 L526.3 157.6 L529.3 154.9 L529.3 166Z"/>
<text transform="translate(531.5 165.8) scale(0.87 1)">2</text>
<path class="g1" d="M620.3 60.7 L620.3 46.9 L618.6 46.9 L615 50.1 L615 52.3 L618 49.6 L618 60.7Z"/>
<text transform="translate(620.8 60.5) scale(0.87 1)">7</text>
<path class="g1" d="M626.3 99.7 L626.3 85.9 L624.6 85.9 L621 89.1 L621 91.3 L624 88.6 L624 99.7Z"/>
<text transform="translate(626.8 99.5) scale(0.87 1)">7</text>
<text transform="translate(600.9 172.8) scale(0.87 1)">9</text>
<text transform="translate(561.3 294.5) scale(0.87 1)">8</text>
<path class="g1" d="M302.1 234 L302.1 220.2 L300.4 220.2 L296.8 223.4 L296.8 225.6 L299.8 222.9 L299.8 234Z"/>
<text transform="translate(303.5 233.8) scale(0.87 1)">9</text>
<text transform="translate(295.7 249.8) scale(0.87 1)">2</text>
<text transform="translate(304.2 249.8) scale(0.87 1)">0</text>
<path class="g1" d="M440.7 309.5 L440.7 295.7 L439 295.7 L435.4 298.9 L435.4 301.1 L438.4 298.4 L438.4 309.5Z"/>
<text transform="translate(441.1 309.3) scale(0.87 1)">8</text>
<text transform="translate(348.8 327.5) scale(0.87 1)">7</text>
<text transform="translate(410.3 327) scale(0.87 1)">6</text>
<text transform="translate(524.9 319.3) scale(0.87 1)">7</text>
<text transform="translate(511.5 337) scale(0.87 1)">6</text>
<path class="g1" d="M332.8 370.7 L332.8 356.9 L331.1 356.9 L327.5 360.1 L327.5 362.3 L330.5 359.6 L330.5 370.7Z"/>
<text transform="translate(334.2 370.5) scale(0.87 1)">9</text>
<text transform="translate(548.8 486) scale(0.87 1)">5</text>
<text transform="translate(248 507) scale(0.87 1)">4</text>
<text transform="translate(205.5 599) scale(0.93 1)">2</text>
<text transform="translate(214.8 599) scale(0.93 1)">5</text>
<text transform="translate(221.5 619) scale(0.95 1)">2</text>
<text transform="translate(231.8 619) scale(0.95 1)">2</text>
<text transform="translate(407.3 494) scale(0.87 1)">4</text>
<text transform="translate(498.3 521) scale(0.87 1)">4</text>
<text transform="translate(506.8 577) scale(0.87 1)">4</text>
<text transform="translate(420.3 618.6) scale(0.92 1)">3</text>
<text transform="translate(545.2 604.8) scale(0.95 1)">2</text>
<path class="g1" d="M562.6 605 L562.6 591.2 L560.9 591.2 L557.3 594.4 L557.3 596.6 L560.3 593.9 L560.3 605Z"/>
<text transform="translate(441.9 702) scale(0.93 1)">2</text>
<text transform="translate(451.4 702) scale(0.93 1)">3</text>
<text transform="translate(413.5 755) scale(0.93 1)">2</text>
<text transform="translate(422.1 755) scale(0.93 1)">4</text>
<text transform="translate(160.7 648.3) scale(0.87 1)">2</text>
<path class="g1" d="M259.3 789.2 L259.3 775.4 L257.6 775.4 L254 778.6 L254 780.8 L257 778.1 L257 789.2Z"/>
</g>
</svg>
</body></html>
